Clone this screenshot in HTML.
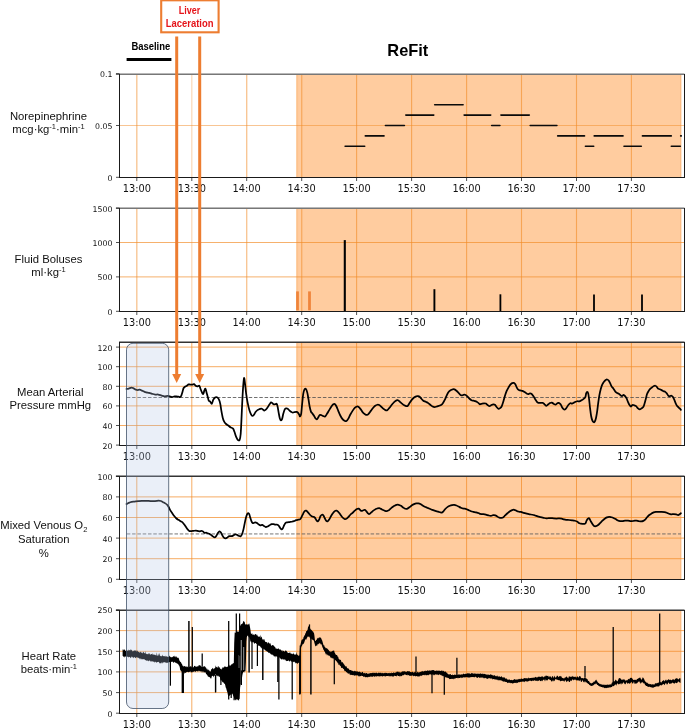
<!DOCTYPE html>
<html lang="en"><head><meta charset="utf-8"><title>ReFit</title>
<style>
html,body{margin:0;padding:0;background:#fff;}
body{width:685px;height:728px;overflow:hidden;}
svg{display:block;}
.tk{font-family:"DejaVu Sans","Liberation Sans",sans-serif;font-size:9.8px;fill:#111;}
.yk{font-family:"DejaVu Sans","Liberation Sans",sans-serif;font-size:7.8px;fill:#111;}
.yl{font-family:"Liberation Sans",Arial,sans-serif;font-size:11.3px;fill:#111;}
.bl{font-family:"Liberation Sans",Arial,sans-serif;font-size:10.1px;font-weight:bold;fill:#000;}
.rf{font-family:"Liberation Sans",Arial,sans-serif;font-size:16.6px;font-weight:bold;fill:#000;}
.ll{font-family:"Liberation Sans",Arial,sans-serif;font-size:10.2px;font-weight:bold;fill:#E5141A;}
</style></head><body>
<svg width="685" height="728" viewBox="0 0 685 728">
<rect width="100%" height="100%" fill="#fff"/>
<g id="panel1">
<rect x="296.2" y="74.5" width="385.1" height="103.0" fill="#FFCC9F"/>
<line x1="297.2" y1="74.5" x2="297.2" y2="177.5" stroke="#F28C28" stroke-opacity="0.13" stroke-width="2"/>
<line x1="680.8" y1="74.5" x2="680.8" y2="177.5" stroke="#F28C28" stroke-opacity="0.3" stroke-width="1"/>
<line x1="136.8" y1="74.5" x2="136.8" y2="177.5" stroke="#F28C28" stroke-opacity="0.5" stroke-width="1.35"/>
<line x1="191.8" y1="74.5" x2="191.8" y2="177.5" stroke="#F28C28" stroke-opacity="0.3" stroke-width="1.35"/>
<line x1="246.7" y1="74.5" x2="246.7" y2="177.5" stroke="#F28C28" stroke-opacity="0.5" stroke-width="1.35"/>
<line x1="301.7" y1="74.5" x2="301.7" y2="177.5" stroke="#F28C28" stroke-opacity="0.5" stroke-width="1.35"/>
<line x1="356.6" y1="74.5" x2="356.6" y2="177.5" stroke="#F28C28" stroke-opacity="0.62" stroke-width="1.1"/>
<line x1="411.6" y1="74.5" x2="411.6" y2="177.5" stroke="#F28C28" stroke-opacity="0.62" stroke-width="1.1"/>
<line x1="466.6" y1="74.5" x2="466.6" y2="177.5" stroke="#F28C28" stroke-opacity="0.62" stroke-width="1.1"/>
<line x1="521.5" y1="74.5" x2="521.5" y2="177.5" stroke="#F28C28" stroke-opacity="0.62" stroke-width="1.1"/>
<line x1="576.5" y1="74.5" x2="576.5" y2="177.5" stroke="#F28C28" stroke-opacity="0.62" stroke-width="1.1"/>
<line x1="631.4" y1="74.5" x2="631.4" y2="177.5" stroke="#F28C28" stroke-opacity="0.62" stroke-width="1.1"/>
<line x1="119.5" y1="125.5" x2="684.5" y2="125.5" stroke="#F28C28" stroke-opacity="0.5" stroke-width="1"/>
</g>
<g id="panel2">
<rect x="296.2" y="208.5" width="385.1" height="103.0" fill="#FFCC9F"/>
<line x1="297.2" y1="208.5" x2="297.2" y2="311.5" stroke="#F28C28" stroke-opacity="0.13" stroke-width="2"/>
<line x1="680.8" y1="208.5" x2="680.8" y2="311.5" stroke="#F28C28" stroke-opacity="0.3" stroke-width="1"/>
<line x1="136.8" y1="208.5" x2="136.8" y2="311.5" stroke="#F28C28" stroke-opacity="0.5" stroke-width="1.35"/>
<line x1="191.8" y1="208.5" x2="191.8" y2="311.5" stroke="#F28C28" stroke-opacity="0.3" stroke-width="1.35"/>
<line x1="246.7" y1="208.5" x2="246.7" y2="311.5" stroke="#F28C28" stroke-opacity="0.5" stroke-width="1.35"/>
<line x1="301.7" y1="208.5" x2="301.7" y2="311.5" stroke="#F28C28" stroke-opacity="0.5" stroke-width="1.35"/>
<line x1="356.6" y1="208.5" x2="356.6" y2="311.5" stroke="#F28C28" stroke-opacity="0.62" stroke-width="1.1"/>
<line x1="411.6" y1="208.5" x2="411.6" y2="311.5" stroke="#F28C28" stroke-opacity="0.62" stroke-width="1.1"/>
<line x1="466.6" y1="208.5" x2="466.6" y2="311.5" stroke="#F28C28" stroke-opacity="0.62" stroke-width="1.1"/>
<line x1="521.5" y1="208.5" x2="521.5" y2="311.5" stroke="#F28C28" stroke-opacity="0.62" stroke-width="1.1"/>
<line x1="576.5" y1="208.5" x2="576.5" y2="311.5" stroke="#F28C28" stroke-opacity="0.62" stroke-width="1.1"/>
<line x1="631.4" y1="208.5" x2="631.4" y2="311.5" stroke="#F28C28" stroke-opacity="0.62" stroke-width="1.1"/>
<line x1="119.5" y1="276.9" x2="684.5" y2="276.9" stroke="#F28C28" stroke-opacity="0.68" stroke-width="1"/>
<line x1="119.5" y1="242.5" x2="684.5" y2="242.5" stroke="#F28C28" stroke-opacity="0.68" stroke-width="1"/>
</g>
<g id="panel3">
<rect x="296.2" y="342.5" width="385.1" height="103.0" fill="#FFCC9F"/>
<line x1="297.2" y1="342.5" x2="297.2" y2="445.5" stroke="#F28C28" stroke-opacity="0.13" stroke-width="2"/>
<line x1="680.8" y1="342.5" x2="680.8" y2="445.5" stroke="#F28C28" stroke-opacity="0.3" stroke-width="1"/>
<line x1="136.8" y1="342.5" x2="136.8" y2="445.5" stroke="#F28C28" stroke-opacity="0.72" stroke-width="1.0"/>
<line x1="191.8" y1="342.5" x2="191.8" y2="445.5" stroke="#F28C28" stroke-opacity="0.72" stroke-width="1.0"/>
<line x1="246.7" y1="342.5" x2="246.7" y2="445.5" stroke="#F28C28" stroke-opacity="0.72" stroke-width="1.0"/>
<line x1="301.7" y1="342.5" x2="301.7" y2="445.5" stroke="#F28C28" stroke-opacity="0.72" stroke-width="1.0"/>
<line x1="356.6" y1="342.5" x2="356.6" y2="445.5" stroke="#F28C28" stroke-opacity="0.72" stroke-width="1.0"/>
<line x1="411.6" y1="342.5" x2="411.6" y2="445.5" stroke="#F28C28" stroke-opacity="0.72" stroke-width="1.0"/>
<line x1="466.6" y1="342.5" x2="466.6" y2="445.5" stroke="#F28C28" stroke-opacity="0.72" stroke-width="1.0"/>
<line x1="521.5" y1="342.5" x2="521.5" y2="445.5" stroke="#F28C28" stroke-opacity="0.72" stroke-width="1.0"/>
<line x1="576.5" y1="342.5" x2="576.5" y2="445.5" stroke="#F28C28" stroke-opacity="0.72" stroke-width="1.0"/>
<line x1="631.4" y1="342.5" x2="631.4" y2="445.5" stroke="#F28C28" stroke-opacity="0.72" stroke-width="1.0"/>
<line x1="119.5" y1="425.5" x2="684.5" y2="425.5" stroke="#F28C28" stroke-opacity="0.72" stroke-width="1"/>
<line x1="119.5" y1="405.9" x2="684.5" y2="405.9" stroke="#F28C28" stroke-opacity="0.72" stroke-width="1"/>
<line x1="119.5" y1="386.3" x2="684.5" y2="386.3" stroke="#F28C28" stroke-opacity="0.72" stroke-width="1"/>
<line x1="119.5" y1="366.7" x2="684.5" y2="366.7" stroke="#F28C28" stroke-opacity="0.72" stroke-width="1"/>
<line x1="119.5" y1="347.1" x2="684.5" y2="347.1" stroke="#F28C28" stroke-opacity="0.72" stroke-width="1"/>
</g>
<g id="panel4">
<rect x="296.2" y="476.5" width="385.1" height="103.0" fill="#FFCC9F"/>
<line x1="297.2" y1="476.5" x2="297.2" y2="579.5" stroke="#F28C28" stroke-opacity="0.13" stroke-width="2"/>
<line x1="680.8" y1="476.5" x2="680.8" y2="579.5" stroke="#F28C28" stroke-opacity="0.3" stroke-width="1"/>
<line x1="136.8" y1="476.5" x2="136.8" y2="579.5" stroke="#F28C28" stroke-opacity="0.72" stroke-width="1.0"/>
<line x1="191.8" y1="476.5" x2="191.8" y2="579.5" stroke="#F28C28" stroke-opacity="0.72" stroke-width="1.0"/>
<line x1="246.7" y1="476.5" x2="246.7" y2="579.5" stroke="#F28C28" stroke-opacity="0.72" stroke-width="1.0"/>
<line x1="301.7" y1="476.5" x2="301.7" y2="579.5" stroke="#F28C28" stroke-opacity="0.72" stroke-width="1.0"/>
<line x1="356.6" y1="476.5" x2="356.6" y2="579.5" stroke="#F28C28" stroke-opacity="0.72" stroke-width="1.0"/>
<line x1="411.6" y1="476.5" x2="411.6" y2="579.5" stroke="#F28C28" stroke-opacity="0.72" stroke-width="1.0"/>
<line x1="466.6" y1="476.5" x2="466.6" y2="579.5" stroke="#F28C28" stroke-opacity="0.72" stroke-width="1.0"/>
<line x1="521.5" y1="476.5" x2="521.5" y2="579.5" stroke="#F28C28" stroke-opacity="0.72" stroke-width="1.0"/>
<line x1="576.5" y1="476.5" x2="576.5" y2="579.5" stroke="#F28C28" stroke-opacity="0.72" stroke-width="1.0"/>
<line x1="631.4" y1="476.5" x2="631.4" y2="579.5" stroke="#F28C28" stroke-opacity="0.72" stroke-width="1.0"/>
<line x1="119.5" y1="558.7" x2="684.5" y2="558.7" stroke="#F28C28" stroke-opacity="0.72" stroke-width="1"/>
<line x1="119.5" y1="538.1" x2="684.5" y2="538.1" stroke="#F28C28" stroke-opacity="0.72" stroke-width="1"/>
<line x1="119.5" y1="517.5" x2="684.5" y2="517.5" stroke="#F28C28" stroke-opacity="0.72" stroke-width="1"/>
<line x1="119.5" y1="496.9" x2="684.5" y2="496.9" stroke="#F28C28" stroke-opacity="0.72" stroke-width="1"/>
</g>
<g id="panel5">
<rect x="296.2" y="610.5" width="385.1" height="103.0" fill="#FFCC9F"/>
<line x1="297.2" y1="610.5" x2="297.2" y2="713.5" stroke="#F28C28" stroke-opacity="0.13" stroke-width="2"/>
<line x1="680.8" y1="610.5" x2="680.8" y2="713.5" stroke="#F28C28" stroke-opacity="0.3" stroke-width="1"/>
<line x1="136.8" y1="610.5" x2="136.8" y2="713.5" stroke="#F28C28" stroke-opacity="0.72" stroke-width="1.0"/>
<line x1="191.8" y1="610.5" x2="191.8" y2="713.5" stroke="#F28C28" stroke-opacity="0.72" stroke-width="1.0"/>
<line x1="246.7" y1="610.5" x2="246.7" y2="713.5" stroke="#F28C28" stroke-opacity="0.72" stroke-width="1.0"/>
<line x1="301.7" y1="610.5" x2="301.7" y2="713.5" stroke="#F28C28" stroke-opacity="0.72" stroke-width="1.0"/>
<line x1="356.6" y1="610.5" x2="356.6" y2="713.5" stroke="#F28C28" stroke-opacity="0.72" stroke-width="1.0"/>
<line x1="411.6" y1="610.5" x2="411.6" y2="713.5" stroke="#F28C28" stroke-opacity="0.72" stroke-width="1.0"/>
<line x1="466.6" y1="610.5" x2="466.6" y2="713.5" stroke="#F28C28" stroke-opacity="0.72" stroke-width="1.0"/>
<line x1="521.5" y1="610.5" x2="521.5" y2="713.5" stroke="#F28C28" stroke-opacity="0.72" stroke-width="1.0"/>
<line x1="576.5" y1="610.5" x2="576.5" y2="713.5" stroke="#F28C28" stroke-opacity="0.72" stroke-width="1.0"/>
<line x1="631.4" y1="610.5" x2="631.4" y2="713.5" stroke="#F28C28" stroke-opacity="0.72" stroke-width="1.0"/>
<line x1="119.5" y1="692.6" x2="684.5" y2="692.6" stroke="#F28C28" stroke-opacity="0.72" stroke-width="1"/>
<line x1="119.5" y1="671.9" x2="684.5" y2="671.9" stroke="#F28C28" stroke-opacity="0.72" stroke-width="1"/>
<line x1="119.5" y1="651.3" x2="684.5" y2="651.3" stroke="#F28C28" stroke-opacity="0.72" stroke-width="1"/>
<line x1="119.5" y1="630.6" x2="684.5" y2="630.6" stroke="#F28C28" stroke-opacity="0.72" stroke-width="1"/>
</g>
<line x1="345.1" y1="146.2" x2="364.7" y2="146.2" stroke="#0a0a0a" stroke-width="1.6" stroke-linecap="round"/>
<line x1="365.3" y1="135.9" x2="384.0" y2="135.9" stroke="#0a0a0a" stroke-width="1.6" stroke-linecap="round"/>
<line x1="385.4" y1="125.5" x2="404.4" y2="125.5" stroke="#0a0a0a" stroke-width="1.6" stroke-linecap="round"/>
<line x1="405.8" y1="115.1" x2="433.8" y2="115.1" stroke="#0a0a0a" stroke-width="1.6" stroke-linecap="round"/>
<line x1="434.7" y1="104.8" x2="463.1" y2="104.8" stroke="#0a0a0a" stroke-width="1.6" stroke-linecap="round"/>
<line x1="464.1" y1="115.1" x2="490.7" y2="115.1" stroke="#0a0a0a" stroke-width="1.6" stroke-linecap="round"/>
<line x1="491.7" y1="125.5" x2="499.9" y2="125.5" stroke="#0a0a0a" stroke-width="1.6" stroke-linecap="round"/>
<line x1="500.9" y1="115.1" x2="529.3" y2="115.1" stroke="#0a0a0a" stroke-width="1.6" stroke-linecap="round"/>
<line x1="530.2" y1="125.5" x2="556.9" y2="125.5" stroke="#0a0a0a" stroke-width="1.6" stroke-linecap="round"/>
<line x1="557.7" y1="135.9" x2="584.5" y2="135.9" stroke="#0a0a0a" stroke-width="1.6" stroke-linecap="round"/>
<line x1="585.4" y1="146.2" x2="593.7" y2="146.2" stroke="#0a0a0a" stroke-width="1.6" stroke-linecap="round"/>
<line x1="594.2" y1="135.9" x2="623.0" y2="135.9" stroke="#0a0a0a" stroke-width="1.6" stroke-linecap="round"/>
<line x1="624.0" y1="146.2" x2="641.3" y2="146.2" stroke="#0a0a0a" stroke-width="1.6" stroke-linecap="round"/>
<line x1="642.4" y1="135.9" x2="671.3" y2="135.9" stroke="#0a0a0a" stroke-width="1.6" stroke-linecap="round"/>
<line x1="671.3" y1="146.2" x2="680.3" y2="146.2" stroke="#0a0a0a" stroke-width="1.6" stroke-linecap="round"/>
<line x1="680.7" y1="135.9" x2="681.3" y2="135.9" stroke="#0a0a0a" stroke-width="1.6" stroke-linecap="round"/>
<line x1="115.9" y1="73.5" x2="684.5" y2="73.5" stroke="#b8b8b8" stroke-width="1"/>
<line x1="115.9" y1="74.5" x2="684.5" y2="74.5" stroke="#777" stroke-width="1"/>
<line x1="119.5" y1="74.0" x2="119.5" y2="178.0" stroke="#1a1a1a" stroke-width="1"/>
<line x1="119.0" y1="177.5" x2="685.0" y2="177.5" stroke="#1a1a1a" stroke-width="1"/>
<line x1="684.5" y1="74.0" x2="684.5" y2="178.0" stroke="#1a1a1a" stroke-width="1"/>
<line x1="136.8" y1="177.5" x2="136.8" y2="181.0" stroke="#222" stroke-width="0.8"/>
<text x="136.8" y="191.9" text-anchor="middle" class="tk">13:00</text>
<line x1="191.8" y1="177.5" x2="191.8" y2="181.0" stroke="#222" stroke-width="0.8"/>
<text x="191.8" y="191.9" text-anchor="middle" class="tk">13:30</text>
<line x1="246.7" y1="177.5" x2="246.7" y2="181.0" stroke="#222" stroke-width="0.8"/>
<text x="246.7" y="191.9" text-anchor="middle" class="tk">14:00</text>
<line x1="301.7" y1="177.5" x2="301.7" y2="181.0" stroke="#222" stroke-width="0.8"/>
<text x="301.7" y="191.9" text-anchor="middle" class="tk">14:30</text>
<line x1="356.6" y1="177.5" x2="356.6" y2="181.0" stroke="#222" stroke-width="0.8"/>
<text x="356.6" y="191.9" text-anchor="middle" class="tk">15:00</text>
<line x1="411.6" y1="177.5" x2="411.6" y2="181.0" stroke="#222" stroke-width="0.8"/>
<text x="411.6" y="191.9" text-anchor="middle" class="tk">15:30</text>
<line x1="466.6" y1="177.5" x2="466.6" y2="181.0" stroke="#222" stroke-width="0.8"/>
<text x="466.6" y="191.9" text-anchor="middle" class="tk">16:00</text>
<line x1="521.5" y1="177.5" x2="521.5" y2="181.0" stroke="#222" stroke-width="0.8"/>
<text x="521.5" y="191.9" text-anchor="middle" class="tk">16:30</text>
<line x1="576.5" y1="177.5" x2="576.5" y2="181.0" stroke="#222" stroke-width="0.8"/>
<text x="576.5" y="191.9" text-anchor="middle" class="tk">17:00</text>
<line x1="631.4" y1="177.5" x2="631.4" y2="181.0" stroke="#222" stroke-width="0.8"/>
<text x="631.4" y="191.9" text-anchor="middle" class="tk">17:30</text>
<line x1="116.0" y1="177.3" x2="119.5" y2="177.3" stroke="#222" stroke-width="0.8"/>
<text x="112.4" y="180.7" text-anchor="end" class="yk">0</text>
<line x1="116.0" y1="125.5" x2="119.5" y2="125.5" stroke="#222" stroke-width="0.8"/>
<text x="112.4" y="128.9" text-anchor="end" class="yk">0.05</text>
<line x1="116.0" y1="73.7" x2="119.5" y2="73.7" stroke="#222" stroke-width="0.8"/>
<text x="112.4" y="77.1" text-anchor="end" class="yk">0.1</text>
<line x1="297.5" y1="291.4" x2="297.5" y2="310.3" stroke="#ED7D31" stroke-opacity="0.9" stroke-width="2.8"/>
<line x1="309.5" y1="291.4" x2="309.5" y2="310.3" stroke="#ED7D31" stroke-opacity="0.9" stroke-width="2.8"/>
<line x1="344.8" y1="240.1" x2="344.8" y2="311.5" stroke="#000" stroke-width="2.1"/>
<line x1="434.4" y1="289.2" x2="434.4" y2="311.5" stroke="#000" stroke-width="1.9"/>
<line x1="500.4" y1="294.3" x2="500.4" y2="311.5" stroke="#000" stroke-width="1.8"/>
<line x1="594" y1="294.4" x2="594" y2="311.5" stroke="#000" stroke-width="1.8"/>
<line x1="642" y1="294.4" x2="642" y2="311.5" stroke="#000" stroke-width="1.8"/>
<line x1="115.9" y1="207.5" x2="684.5" y2="207.5" stroke="#b8b8b8" stroke-width="1"/>
<line x1="115.9" y1="208.5" x2="684.5" y2="208.5" stroke="#777" stroke-width="1"/>
<line x1="119.5" y1="208.0" x2="119.5" y2="312.0" stroke="#1a1a1a" stroke-width="1"/>
<line x1="119.0" y1="311.5" x2="685.0" y2="311.5" stroke="#1a1a1a" stroke-width="1"/>
<line x1="684.5" y1="208.0" x2="684.5" y2="312.0" stroke="#1a1a1a" stroke-width="1"/>
<line x1="136.8" y1="311.5" x2="136.8" y2="315.0" stroke="#222" stroke-width="0.8"/>
<text x="136.8" y="325.9" text-anchor="middle" class="tk">13:00</text>
<line x1="191.8" y1="311.5" x2="191.8" y2="315.0" stroke="#222" stroke-width="0.8"/>
<text x="191.8" y="325.9" text-anchor="middle" class="tk">13:30</text>
<line x1="246.7" y1="311.5" x2="246.7" y2="315.0" stroke="#222" stroke-width="0.8"/>
<text x="246.7" y="325.9" text-anchor="middle" class="tk">14:00</text>
<line x1="301.7" y1="311.5" x2="301.7" y2="315.0" stroke="#222" stroke-width="0.8"/>
<text x="301.7" y="325.9" text-anchor="middle" class="tk">14:30</text>
<line x1="356.6" y1="311.5" x2="356.6" y2="315.0" stroke="#222" stroke-width="0.8"/>
<text x="356.6" y="325.9" text-anchor="middle" class="tk">15:00</text>
<line x1="411.6" y1="311.5" x2="411.6" y2="315.0" stroke="#222" stroke-width="0.8"/>
<text x="411.6" y="325.9" text-anchor="middle" class="tk">15:30</text>
<line x1="466.6" y1="311.5" x2="466.6" y2="315.0" stroke="#222" stroke-width="0.8"/>
<text x="466.6" y="325.9" text-anchor="middle" class="tk">16:00</text>
<line x1="521.5" y1="311.5" x2="521.5" y2="315.0" stroke="#222" stroke-width="0.8"/>
<text x="521.5" y="325.9" text-anchor="middle" class="tk">16:30</text>
<line x1="576.5" y1="311.5" x2="576.5" y2="315.0" stroke="#222" stroke-width="0.8"/>
<text x="576.5" y="325.9" text-anchor="middle" class="tk">17:00</text>
<line x1="631.4" y1="311.5" x2="631.4" y2="315.0" stroke="#222" stroke-width="0.8"/>
<text x="631.4" y="325.9" text-anchor="middle" class="tk">17:30</text>
<line x1="116.0" y1="311.3" x2="119.5" y2="311.3" stroke="#222" stroke-width="0.8"/>
<text x="112.4" y="314.7" text-anchor="end" class="yk">0</text>
<line x1="116.0" y1="276.9" x2="119.5" y2="276.9" stroke="#222" stroke-width="0.8"/>
<text x="112.4" y="280.3" text-anchor="end" class="yk">500</text>
<line x1="116.0" y1="242.5" x2="119.5" y2="242.5" stroke="#222" stroke-width="0.8"/>
<text x="112.4" y="245.9" text-anchor="end" class="yk">1000</text>
<line x1="116.0" y1="208.1" x2="119.5" y2="208.1" stroke="#222" stroke-width="0.8"/>
<text x="112.4" y="211.5" text-anchor="end" class="yk">1500</text>
<line x1="126.8" y1="397.5" x2="681" y2="397.5" stroke="#4d4d4d" stroke-opacity="0.8" stroke-width="1.0" stroke-dasharray="3.5 1.8"/><path d="M126.57 388.98 C126.93 388.91 127.96 388.76 128.76 388.54 C129.56 388.32 130.66 387.74 131.39 387.66 C132.12 387.59 132.48 387.81 133.14 388.10 C133.80 388.39 134.65 389.10 135.33 389.42 C136.01 389.73 136.50 389.95 137.23 390.00 C137.96 390.05 138.93 389.61 139.71 389.71 C140.49 389.81 141.17 390.27 141.90 390.58 C142.63 390.90 143.36 391.31 144.09 391.61 C144.82 391.90 145.43 392.12 146.28 392.34 C147.13 392.55 148.22 392.68 149.20 392.92 C150.17 393.16 151.14 393.53 152.12 393.80 C153.09 394.06 154.01 394.40 155.04 394.53 C156.06 394.65 157.15 394.36 158.25 394.53 C159.34 394.70 160.56 395.26 161.61 395.55 C162.65 395.84 163.55 396.20 164.53 396.28 C165.50 396.35 166.59 395.99 167.45 395.99 C168.30 395.99 168.91 396.11 169.64 396.28 C170.36 396.45 171.09 396.96 171.82 397.01 C172.55 397.06 173.28 396.69 174.01 396.57 C174.74 396.45 175.47 396.25 176.20 396.28 C176.93 396.30 177.74 396.59 178.39 396.72 C179.05 396.84 179.66 397.20 180.15 397.01 C180.63 396.81 180.92 396.40 181.31 395.55 C181.70 394.70 182.12 393.11 182.48 391.90 C182.85 390.68 183.09 389.10 183.50 388.25 C183.92 387.40 184.40 387.20 184.96 386.79 C185.52 386.37 186.25 386.18 186.86 385.77 C187.47 385.35 188.08 384.50 188.61 384.31 C189.15 384.11 189.46 384.55 190.07 384.60 C190.68 384.65 191.58 384.67 192.26 384.60 C192.94 384.53 193.60 383.97 194.16 384.16 C194.72 384.36 195.09 385.40 195.62 385.77 C196.16 386.13 196.76 386.37 197.37 386.35 C197.98 386.33 198.78 385.30 199.27 385.62 C199.76 385.94 199.88 387.20 200.29 388.25 C200.71 389.29 201.27 390.92 201.75 391.90 C202.24 392.87 202.77 394.33 203.21 394.09 C203.65 393.84 204.01 391.34 204.38 390.44 C204.74 389.54 205.06 388.44 205.40 388.69 C205.74 388.93 206.06 390.63 206.42 391.90 C206.79 393.16 207.20 394.82 207.59 396.28 C207.98 397.74 208.36 399.81 208.76 400.66 C209.16 401.51 209.50 400.85 210.00 401.39 C210.50 401.92 211.22 404.11 211.75 403.87 C212.29 403.63 212.65 401.00 213.21 399.93 C213.77 398.86 214.48 397.88 215.11 397.45 C215.74 397.01 216.40 397.01 217.01 397.30 C217.62 397.59 218.22 398.15 218.76 399.20 C219.29 400.24 219.78 401.63 220.22 403.58 C220.66 405.52 220.95 408.44 221.39 410.88 C221.82 413.31 222.36 416.35 222.85 418.18 C223.33 420.00 223.77 420.85 224.31 421.82 C224.84 422.80 225.40 423.41 226.06 424.01 C226.72 424.62 227.52 424.94 228.25 425.47 C228.98 426.01 229.64 426.69 230.44 427.23 C231.24 427.76 232.38 427.88 233.07 428.69 C233.75 429.49 233.99 430.63 234.53 432.04 C235.06 433.45 235.69 435.82 236.28 437.15 C236.86 438.49 237.47 439.64 238.03 440.07 C238.59 440.51 239.20 440.75 239.64 439.78 C240.07 438.81 240.36 437.35 240.66 434.23 C240.95 431.12 241.14 425.96 241.39 421.09 C241.63 416.23 241.85 410.39 242.12 405.04 C242.38 399.68 242.68 393.48 242.99 388.98 C243.31 384.48 243.67 378.88 244.01 378.03 C244.36 377.18 244.67 381.19 245.04 383.87 C245.40 386.55 245.77 390.92 246.20 394.09 C246.64 397.25 247.13 400.17 247.66 402.85 C248.20 405.52 248.83 408.20 249.42 410.15 C250.00 412.09 250.68 413.55 251.17 414.53 C251.65 415.50 251.90 415.91 252.34 415.99 C252.77 416.06 253.26 415.62 253.80 414.96 C254.33 414.31 254.94 412.85 255.55 412.04 C256.16 411.24 256.76 410.63 257.45 410.15 C258.13 409.66 258.98 409.39 259.64 409.12 C260.29 408.86 260.85 408.49 261.39 408.54 C261.92 408.59 262.36 409.08 262.85 409.42 C263.33 409.76 263.82 410.54 264.31 410.58 C264.79 410.63 265.21 410.27 265.77 409.71 C266.33 409.15 267.03 408.13 267.66 407.23 C268.30 406.33 269.00 405.11 269.56 404.31 C270.12 403.50 270.54 402.58 271.02 402.41 C271.51 402.24 272.00 402.94 272.48 403.28 C272.97 403.63 273.45 404.31 273.94 404.45 C274.43 404.60 274.94 404.26 275.40 404.16 C275.86 404.06 276.35 403.48 276.72 403.87 C277.08 404.26 277.27 405.09 277.59 406.50 C277.91 407.91 278.25 410.39 278.61 412.34 C278.98 414.28 279.39 416.84 279.78 418.18 C280.17 419.51 280.56 420.24 280.95 420.36 C281.34 420.49 281.73 420.00 282.12 418.91 C282.51 417.81 282.85 415.38 283.28 413.80 C283.72 412.21 284.26 410.32 284.74 409.42 C285.23 408.52 285.72 408.52 286.20 408.39 C286.69 408.27 287.10 408.32 287.66 408.69 C288.22 409.05 288.93 410.02 289.56 410.58 C290.19 411.14 290.90 411.70 291.46 412.04 C292.02 412.38 292.38 412.63 292.92 412.63 C293.45 412.63 294.09 412.17 294.67 412.04 C295.26 411.92 295.89 411.80 296.42 411.90 C296.96 412.00 297.40 412.12 297.88 412.63 C298.37 413.14 298.99 414.33 299.34 414.96 C299.70 415.60 299.70 416.62 300.00 416.42 C300.30 416.23 300.83 415.69 301.17 413.80 C301.51 411.90 301.70 408.32 302.04 405.04 C302.38 401.75 302.82 396.64 303.21 394.09 C303.60 391.53 303.94 390.56 304.38 389.71 C304.82 388.86 305.35 388.49 305.84 388.98 C306.33 389.46 306.86 390.92 307.30 392.63 C307.74 394.33 308.08 396.89 308.47 399.20 C308.86 401.51 309.22 404.43 309.64 406.50 C310.05 408.56 310.49 410.44 310.95 411.61 C311.41 412.77 311.92 412.85 312.41 413.50 C312.90 414.16 313.38 414.77 313.87 415.55 C314.36 416.33 314.84 417.54 315.33 418.18 C315.82 418.81 316.30 419.46 316.79 419.34 C317.27 419.22 317.76 418.18 318.25 417.45 C318.73 416.72 319.15 415.33 319.71 414.96 C320.27 414.60 321.00 415.06 321.61 415.26 C322.21 415.45 322.77 415.94 323.36 416.13 C323.94 416.33 324.50 416.81 325.11 416.42 C325.72 416.03 326.33 414.84 327.01 413.80 C327.69 412.75 328.47 411.36 329.20 410.15 C329.93 408.93 330.71 407.47 331.39 406.50 C332.07 405.52 332.73 404.72 333.28 404.31 C333.84 403.89 334.21 403.65 334.74 404.01 C335.28 404.38 335.91 405.35 336.50 406.50 C337.08 407.64 337.64 409.42 338.25 410.88 C338.86 412.34 339.46 413.92 340.15 415.26 C340.83 416.59 341.61 417.98 342.34 418.91 C343.07 419.83 343.84 420.44 344.53 420.80 C345.21 421.17 345.82 421.41 346.42 421.09 C347.03 420.78 347.52 420.00 348.18 418.91 C348.83 417.81 349.64 415.86 350.36 414.53 C351.09 413.19 351.82 411.97 352.55 410.88 C353.28 409.78 354.01 408.69 354.74 407.96 C355.47 407.23 356.28 406.67 356.93 406.50 C357.59 406.33 358.08 406.50 358.69 406.93 C359.29 407.37 359.90 408.22 360.58 409.12 C361.27 410.02 362.04 411.48 362.77 412.34 C363.50 413.19 364.28 413.80 364.96 414.23 C365.64 414.67 366.25 415.04 366.86 414.96 C367.47 414.89 367.96 414.48 368.61 413.80 C369.27 413.11 370.07 411.85 370.80 410.88 C371.53 409.90 372.26 408.81 372.99 407.96 C373.72 407.10 374.45 406.30 375.18 405.77 C375.91 405.23 376.69 404.87 377.37 404.74 C378.05 404.62 378.66 404.74 379.27 405.04 C379.88 405.33 380.36 405.89 381.02 406.50 C381.68 407.10 382.48 408.08 383.21 408.69 C383.94 409.29 384.72 409.90 385.40 410.15 C386.08 410.39 386.64 410.51 387.30 410.15 C387.96 409.78 388.89 408.44 389.34 407.96 C389.79 407.47 389.53 407.83 390.00 407.23 C390.47 406.62 391.46 405.21 392.19 404.31 C392.92 403.41 393.65 402.48 394.38 401.82 C395.11 401.17 395.96 400.63 396.57 400.36 C397.18 400.10 397.47 399.98 398.03 400.22 C398.59 400.46 399.27 401.27 399.93 401.82 C400.58 402.38 401.24 402.99 401.97 403.58 C402.70 404.16 403.58 404.89 404.31 405.33 C405.04 405.77 405.77 406.13 406.35 406.20 C406.93 406.28 407.25 406.33 407.81 405.77 C408.37 405.21 409.03 403.87 409.71 402.85 C410.39 401.82 411.17 400.54 411.90 399.64 C412.63 398.73 413.36 398.00 414.09 397.45 C414.82 396.89 415.62 396.50 416.28 396.28 C416.93 396.06 417.47 396.06 418.03 396.13 C418.59 396.20 419.08 396.28 419.64 396.72 C420.19 397.15 420.78 398.10 421.39 398.76 C422.00 399.42 422.55 400.15 423.28 400.66 C424.01 401.17 424.94 401.41 425.77 401.82 C426.59 402.24 427.45 402.60 428.25 403.14 C429.05 403.67 429.85 404.48 430.58 405.04 C431.31 405.60 431.97 406.16 432.63 406.50 C433.28 406.84 433.84 407.08 434.53 407.08 C435.21 407.08 435.99 406.72 436.72 406.50 C437.45 406.28 438.18 406.01 438.91 405.77 C439.64 405.52 440.44 405.45 441.09 405.04 C441.75 404.62 442.24 404.14 442.85 403.28 C443.45 402.43 444.11 401.22 444.74 399.93 C445.38 398.64 446.03 396.84 446.64 395.55 C447.25 394.26 447.74 393.09 448.39 392.19 C449.05 391.29 449.85 390.63 450.58 390.15 C451.31 389.66 452.12 389.39 452.77 389.27 C453.43 389.15 453.92 389.17 454.53 389.42 C455.13 389.66 455.79 390.19 456.42 390.73 C457.06 391.27 457.71 392.00 458.32 392.63 C458.93 393.26 459.54 394.06 460.07 394.53 C460.61 394.99 461.05 395.30 461.53 395.40 C462.02 395.50 462.51 395.26 462.99 395.11 C463.48 394.96 463.97 394.53 464.45 394.53 C464.94 394.53 465.38 394.74 465.91 395.11 C466.45 395.47 467.06 396.11 467.66 396.72 C468.27 397.32 468.93 398.18 469.56 398.76 C470.19 399.34 470.80 399.90 471.46 400.22 C472.12 400.54 472.85 400.51 473.50 400.66 C474.16 400.80 474.77 400.85 475.40 401.09 C476.03 401.34 476.69 401.70 477.30 402.12 C477.91 402.53 478.60 403.21 479.05 403.58 C479.50 403.94 479.48 404.31 480.00 404.31 C480.52 404.31 481.51 403.75 482.19 403.58 C482.87 403.41 483.48 403.28 484.09 403.28 C484.70 403.28 485.26 403.28 485.84 403.58 C486.42 403.87 486.98 404.60 487.59 405.04 C488.20 405.47 488.86 406.20 489.49 406.20 C490.12 406.20 490.73 405.35 491.39 405.04 C492.04 404.72 492.85 404.36 493.43 404.31 C494.01 404.26 494.33 404.26 494.89 404.74 C495.45 405.23 496.16 406.55 496.79 407.23 C497.42 407.91 498.08 408.71 498.69 408.83 C499.29 408.95 499.90 408.47 500.44 407.96 C500.97 407.45 501.41 406.86 501.90 405.77 C502.38 404.67 502.87 402.97 503.36 401.39 C503.84 399.81 504.28 397.98 504.82 396.28 C505.35 394.57 505.96 392.63 506.57 391.17 C507.18 389.71 507.83 388.61 508.47 387.52 C509.10 386.42 509.76 385.33 510.36 384.60 C510.97 383.87 511.53 383.43 512.12 383.14 C512.70 382.85 513.33 382.65 513.87 382.85 C514.40 383.04 514.84 383.53 515.33 384.31 C515.82 385.09 516.30 386.62 516.79 387.52 C517.27 388.42 517.69 389.22 518.25 389.71 C518.81 390.19 519.46 390.24 520.15 390.44 C520.83 390.63 521.61 390.63 522.34 390.88 C523.07 391.12 523.84 391.48 524.53 391.90 C525.21 392.31 525.82 392.99 526.42 393.36 C527.03 393.72 527.59 394.09 528.18 394.09 C528.76 394.09 529.39 393.41 529.93 393.36 C530.46 393.31 530.83 393.36 531.39 393.80 C531.95 394.23 532.65 395.09 533.28 395.99 C533.92 396.89 534.57 398.22 535.18 399.20 C535.79 400.17 536.40 401.22 536.93 401.82 C537.47 402.43 537.79 402.68 538.39 402.85 C539.00 403.02 539.85 402.85 540.58 402.85 C541.31 402.85 542.12 402.60 542.77 402.85 C543.43 403.09 543.92 403.82 544.53 404.31 C545.13 404.79 545.79 405.77 546.42 405.77 C547.06 405.77 547.71 404.77 548.32 404.31 C548.93 403.84 549.49 403.28 550.07 402.99 C550.66 402.70 551.22 402.41 551.82 402.55 C552.43 402.70 553.11 403.53 553.72 403.87 C554.33 404.21 554.87 404.70 555.47 404.60 C556.08 404.50 556.81 403.58 557.37 403.28 C557.93 402.99 558.30 402.68 558.83 402.85 C559.37 403.02 560.05 403.58 560.58 404.31 C561.12 405.04 561.56 406.42 562.04 407.23 C562.53 408.03 563.02 408.76 563.50 409.12 C563.99 409.49 564.48 409.61 564.96 409.42 C565.45 409.22 565.86 408.69 566.42 407.96 C566.98 407.23 567.69 405.82 568.32 405.04 C568.95 404.26 569.61 403.53 570.22 403.28 C570.83 403.04 571.39 403.65 571.97 403.58 C572.55 403.50 573.11 403.16 573.72 402.85 C574.33 402.53 574.99 401.95 575.62 401.68 C576.25 401.41 576.79 401.34 577.52 401.24 C578.25 401.14 578.75 401.68 580.00 401.09 C581.25 400.51 583.97 399.03 585.00 397.74 C586.03 396.45 585.80 394.33 586.17 393.36 C586.53 392.38 586.85 391.90 587.19 391.90 C587.53 391.90 587.90 392.14 588.21 393.36 C588.53 394.57 588.77 396.64 589.09 399.20 C589.40 401.75 589.77 405.89 590.11 408.69 C590.45 411.48 590.77 414.04 591.13 415.99 C591.50 417.93 591.91 419.34 592.30 420.36 C592.69 421.39 593.08 421.87 593.47 422.12 C593.86 422.36 594.22 422.48 594.64 421.82 C595.05 421.17 595.54 419.88 595.95 418.18 C596.36 416.47 596.75 414.04 597.12 411.61 C597.48 409.17 597.77 406.25 598.14 403.58 C598.50 400.90 598.87 397.98 599.31 395.55 C599.74 393.11 600.28 390.80 600.77 388.98 C601.25 387.15 601.69 385.82 602.23 384.60 C602.76 383.38 603.39 382.46 603.98 381.68 C604.56 380.90 605.19 380.29 605.73 379.93 C606.27 379.56 606.70 379.39 607.19 379.49 C607.68 379.59 608.16 379.90 608.65 380.51 C609.14 381.12 609.62 382.17 610.11 383.14 C610.60 384.11 611.01 385.43 611.57 386.35 C612.13 387.27 612.83 387.81 613.47 388.69 C614.10 389.56 614.76 390.88 615.36 391.61 C615.97 392.34 616.53 392.70 617.12 393.07 C617.70 393.43 618.26 393.38 618.87 393.80 C619.48 394.21 620.21 395.18 620.77 395.55 C621.33 395.91 621.74 396.11 622.23 395.99 C622.71 395.86 623.20 394.77 623.69 394.82 C624.17 394.87 624.66 395.67 625.15 396.28 C625.63 396.89 626.12 397.49 626.61 398.47 C627.09 399.44 627.58 401.02 628.07 402.12 C628.55 403.21 629.04 404.31 629.53 405.04 C630.01 405.77 630.50 406.50 630.99 406.50 C631.47 406.50 631.89 405.23 632.45 405.04 C633.00 404.84 633.73 405.13 634.34 405.33 C634.95 405.52 635.51 405.72 636.09 406.20 C636.68 406.69 637.24 407.71 637.85 408.25 C638.45 408.78 639.11 409.42 639.74 409.42 C640.38 409.42 641.03 408.69 641.64 408.25 C642.25 407.81 642.91 407.57 643.39 406.79 C643.88 406.01 644.17 404.84 644.56 403.58 C644.95 402.31 645.32 400.78 645.73 399.20 C646.14 397.62 646.58 395.43 647.04 394.09 C647.51 392.75 647.94 392.07 648.50 391.17 C649.06 390.27 649.79 389.34 650.40 388.69 C651.01 388.03 651.57 387.66 652.15 387.23 C652.74 386.79 653.37 386.30 653.91 386.06 C654.44 385.82 654.88 385.64 655.36 385.77 C655.85 385.89 656.39 386.33 656.82 386.79 C657.26 387.25 657.51 388.13 657.99 388.54 C658.48 388.95 659.14 389.00 659.74 389.27 C660.35 389.54 661.01 389.83 661.64 390.15 C662.27 390.46 662.93 390.88 663.54 391.17 C664.15 391.46 664.76 391.53 665.29 391.90 C665.83 392.26 666.27 392.75 666.75 393.36 C667.24 393.97 667.73 395.06 668.21 395.55 C668.70 396.03 669.18 396.28 669.67 396.28 C670.16 396.28 670.64 395.50 671.13 395.55 C671.62 395.60 672.10 395.96 672.59 396.57 C673.08 397.18 673.56 398.15 674.05 399.20 C674.54 400.24 675.02 401.75 675.51 402.85 C676.00 403.94 676.44 404.99 676.97 405.77 C677.51 406.55 678.24 407.03 678.72 407.52 C679.21 408.00 679.53 408.30 679.89 408.69 C680.26 409.08 680.74 409.66 680.91 409.85" fill="none" stroke="#000" stroke-width="1.75" stroke-linejoin="round" stroke-linecap="round"/>
<line x1="119.0" y1="341.5" x2="684.5" y2="341.5" stroke="#999" stroke-width="1"/>
<line x1="119.0" y1="342.5" x2="684.5" y2="342.5" stroke="#333" stroke-width="1"/>
<line x1="119.5" y1="342.0" x2="119.5" y2="446.0" stroke="#1a1a1a" stroke-width="1"/>
<line x1="119.0" y1="445.5" x2="685.0" y2="445.5" stroke="#1a1a1a" stroke-width="1"/>
<line x1="684.5" y1="342.0" x2="684.5" y2="446.0" stroke="#1a1a1a" stroke-width="1"/>
<line x1="136.8" y1="445.5" x2="136.8" y2="449.0" stroke="#222" stroke-width="0.8"/>
<text x="136.8" y="459.9" text-anchor="middle" class="tk">13:00</text>
<line x1="191.8" y1="445.5" x2="191.8" y2="449.0" stroke="#222" stroke-width="0.8"/>
<text x="191.8" y="459.9" text-anchor="middle" class="tk">13:30</text>
<line x1="246.7" y1="445.5" x2="246.7" y2="449.0" stroke="#222" stroke-width="0.8"/>
<text x="246.7" y="459.9" text-anchor="middle" class="tk">14:00</text>
<line x1="301.7" y1="445.5" x2="301.7" y2="449.0" stroke="#222" stroke-width="0.8"/>
<text x="301.7" y="459.9" text-anchor="middle" class="tk">14:30</text>
<line x1="356.6" y1="445.5" x2="356.6" y2="449.0" stroke="#222" stroke-width="0.8"/>
<text x="356.6" y="459.9" text-anchor="middle" class="tk">15:00</text>
<line x1="411.6" y1="445.5" x2="411.6" y2="449.0" stroke="#222" stroke-width="0.8"/>
<text x="411.6" y="459.9" text-anchor="middle" class="tk">15:30</text>
<line x1="466.6" y1="445.5" x2="466.6" y2="449.0" stroke="#222" stroke-width="0.8"/>
<text x="466.6" y="459.9" text-anchor="middle" class="tk">16:00</text>
<line x1="521.5" y1="445.5" x2="521.5" y2="449.0" stroke="#222" stroke-width="0.8"/>
<text x="521.5" y="459.9" text-anchor="middle" class="tk">16:30</text>
<line x1="576.5" y1="445.5" x2="576.5" y2="449.0" stroke="#222" stroke-width="0.8"/>
<text x="576.5" y="459.9" text-anchor="middle" class="tk">17:00</text>
<line x1="631.4" y1="445.5" x2="631.4" y2="449.0" stroke="#222" stroke-width="0.8"/>
<text x="631.4" y="459.9" text-anchor="middle" class="tk">17:30</text>
<line x1="116.0" y1="445.1" x2="119.5" y2="445.1" stroke="#222" stroke-width="0.8"/>
<text x="112.4" y="448.5" text-anchor="end" class="yk">20</text>
<line x1="116.0" y1="425.5" x2="119.5" y2="425.5" stroke="#222" stroke-width="0.8"/>
<text x="112.4" y="428.9" text-anchor="end" class="yk">40</text>
<line x1="116.0" y1="405.9" x2="119.5" y2="405.9" stroke="#222" stroke-width="0.8"/>
<text x="112.4" y="409.3" text-anchor="end" class="yk">60</text>
<line x1="116.0" y1="386.3" x2="119.5" y2="386.3" stroke="#222" stroke-width="0.8"/>
<text x="112.4" y="389.7" text-anchor="end" class="yk">80</text>
<line x1="116.0" y1="366.7" x2="119.5" y2="366.7" stroke="#222" stroke-width="0.8"/>
<text x="112.4" y="370.1" text-anchor="end" class="yk">100</text>
<line x1="116.0" y1="347.1" x2="119.5" y2="347.1" stroke="#222" stroke-width="0.8"/>
<text x="112.4" y="350.5" text-anchor="end" class="yk">120</text>
<line x1="126.8" y1="533.9" x2="681" y2="533.9" stroke="#5a5a5a" stroke-opacity="0.48" stroke-width="1.6" stroke-dasharray="3.5 1.8"/><path d="M126.57 504.09 C126.93 503.89 127.91 503.28 128.76 502.92 C129.61 502.55 130.71 502.12 131.68 501.90 C132.65 501.68 133.50 501.73 134.60 501.61 C135.69 501.48 137.03 501.29 138.25 501.17 C139.46 501.05 140.56 500.92 141.90 500.88 C143.24 500.83 144.82 500.85 146.28 500.88 C147.74 500.90 149.20 501.00 150.66 501.02 C152.12 501.05 153.70 501.07 155.04 501.02 C156.37 500.97 157.71 500.73 158.69 500.73 C159.66 500.73 160.15 500.78 160.88 501.02 C161.61 501.27 162.34 501.80 163.07 502.19 C163.80 502.58 164.53 502.87 165.26 503.36 C165.99 503.84 166.84 504.43 167.45 505.11 C168.05 505.79 168.42 506.57 168.91 507.45 C169.39 508.32 169.81 509.39 170.36 510.36 C170.92 511.34 171.65 512.38 172.26 513.28 C172.87 514.18 173.36 514.94 174.01 515.77 C174.67 516.59 175.47 517.57 176.20 518.25 C176.93 518.93 177.66 519.37 178.39 519.85 C179.12 520.34 179.90 520.75 180.58 521.17 C181.27 521.58 181.87 521.78 182.48 522.34 C183.09 522.90 183.65 523.75 184.23 524.53 C184.82 525.30 185.38 526.16 185.99 527.01 C186.59 527.86 187.32 528.95 187.88 529.64 C188.44 530.32 188.73 530.85 189.34 531.09 C189.95 531.34 190.80 531.14 191.53 531.09 C192.26 531.05 192.99 530.88 193.72 530.80 C194.45 530.73 195.18 530.61 195.91 530.66 C196.64 530.71 197.42 530.97 198.10 531.09 C198.78 531.22 199.44 531.44 200.00 531.39 C200.56 531.34 200.97 530.80 201.46 530.80 C201.95 530.80 202.43 531.05 202.92 531.39 C203.41 531.73 203.84 532.65 204.38 532.85 C204.91 533.04 205.60 532.48 206.13 532.55 C206.67 532.63 207.06 533.09 207.59 533.28 C208.13 533.48 208.94 533.55 209.34 533.72 C209.74 533.89 209.60 534.01 210.00 534.31 C210.40 534.60 211.14 535.04 211.75 535.47 C212.36 535.91 213.09 536.64 213.65 536.93 C214.21 537.23 214.62 537.47 215.11 537.23 C215.60 536.98 216.08 536.20 216.57 535.47 C217.06 534.74 217.54 533.53 218.03 532.85 C218.52 532.17 219.00 531.44 219.49 531.39 C219.98 531.34 220.46 531.87 220.95 532.55 C221.44 533.24 221.92 534.62 222.41 535.47 C222.90 536.33 223.31 537.18 223.87 537.66 C224.43 538.15 225.16 538.44 225.77 538.39 C226.37 538.35 226.93 537.74 227.52 537.37 C228.10 537.01 228.59 536.40 229.27 536.20 C229.95 536.01 230.92 536.33 231.61 536.20 C232.29 536.08 232.77 535.77 233.36 535.47 C233.94 535.18 234.50 534.55 235.11 534.45 C235.72 534.36 236.37 534.65 237.01 534.89 C237.64 535.13 238.30 535.69 238.91 535.91 C239.51 536.13 240.12 536.52 240.66 536.20 C241.19 535.89 241.63 535.23 242.12 534.01 C242.60 532.80 243.09 530.97 243.58 528.91 C244.06 526.84 244.55 523.80 245.04 521.61 C245.52 519.42 246.01 517.15 246.50 515.77 C246.98 514.38 247.52 513.60 247.96 513.28 C248.39 512.97 248.76 513.21 249.12 513.87 C249.49 514.53 249.78 516.06 250.15 517.23 C250.51 518.39 250.90 519.90 251.31 520.88 C251.73 521.85 252.17 522.75 252.63 523.07 C253.09 523.38 253.60 522.90 254.09 522.77 C254.57 522.65 255.06 522.29 255.55 522.34 C256.03 522.38 256.45 522.70 257.01 523.07 C257.57 523.43 258.35 524.16 258.91 524.53 C259.46 524.89 259.81 525.18 260.36 525.26 C260.92 525.33 261.65 524.84 262.26 524.96 C262.87 525.09 263.43 525.64 264.01 525.99 C264.60 526.33 265.16 526.93 265.77 527.01 C266.37 527.08 267.03 526.72 267.66 526.42 C268.30 526.13 268.91 525.64 269.56 525.26 C270.22 524.87 270.95 524.26 271.61 524.09 C272.26 523.92 272.87 524.14 273.50 524.23 C274.14 524.33 274.79 524.62 275.40 524.67 C276.01 524.72 276.62 524.38 277.15 524.53 C277.69 524.67 278.13 524.99 278.61 525.55 C279.10 526.11 279.59 527.25 280.07 527.88 C280.56 528.52 281.09 529.25 281.53 529.34 C281.97 529.44 282.26 529.15 282.70 528.47 C283.14 527.79 283.67 526.20 284.16 525.26 C284.65 524.31 285.09 523.26 285.62 522.77 C286.16 522.29 286.72 522.46 287.37 522.34 C288.03 522.21 288.83 522.14 289.56 522.04 C290.29 521.95 291.02 521.90 291.75 521.75 C292.48 521.61 293.21 521.44 293.94 521.17 C294.67 520.90 295.40 520.39 296.13 520.15 C296.86 519.90 297.68 519.83 298.32 519.71 C298.97 519.59 299.48 519.83 300.00 519.42 C300.52 519.00 300.92 518.20 301.46 517.23 C302.00 516.25 302.68 514.60 303.21 513.58 C303.75 512.55 304.18 511.58 304.67 511.09 C305.16 510.61 305.57 510.44 306.13 510.66 C306.69 510.88 307.40 511.73 308.03 512.41 C308.66 513.09 309.32 514.11 309.93 514.74 C310.54 515.38 311.09 515.86 311.68 516.20 C312.26 516.55 312.90 516.55 313.43 516.79 C313.97 517.03 314.40 517.10 314.89 517.66 C315.38 518.22 315.86 519.54 316.35 520.15 C316.84 520.75 317.32 521.44 317.81 521.31 C318.30 521.19 318.83 520.27 319.27 519.42 C319.71 518.56 320.00 516.98 320.44 516.20 C320.88 515.43 321.41 514.89 321.90 514.74 C322.38 514.60 322.87 514.74 323.36 515.33 C323.84 515.91 324.33 517.32 324.82 518.25 C325.30 519.17 325.79 520.39 326.28 520.88 C326.76 521.36 327.25 521.41 327.74 521.17 C328.22 520.92 328.66 520.24 329.20 519.42 C329.73 518.59 330.34 517.23 330.95 516.20 C331.56 515.18 332.21 514.14 332.85 513.28 C333.48 512.43 334.14 511.53 334.74 511.09 C335.35 510.66 335.91 510.54 336.50 510.66 C337.08 510.78 337.64 511.22 338.25 511.82 C338.86 512.43 339.46 513.41 340.15 514.31 C340.83 515.21 341.61 516.45 342.34 517.23 C343.07 518.00 343.84 518.71 344.53 518.98 C345.21 519.25 345.82 519.12 346.42 518.83 C347.03 518.54 347.52 517.91 348.18 517.23 C348.83 516.55 349.64 515.47 350.36 514.74 C351.09 514.01 351.82 513.53 352.55 512.85 C353.28 512.17 354.01 511.31 354.74 510.66 C355.47 510.00 356.28 509.25 356.93 508.91 C357.59 508.56 358.15 508.44 358.69 508.61 C359.22 508.78 359.66 509.54 360.15 509.93 C360.63 510.32 361.05 510.90 361.61 510.95 C362.17 511.00 362.94 510.39 363.50 510.22 C364.06 510.05 364.48 509.73 364.96 509.93 C365.45 510.12 365.94 510.83 366.42 511.39 C366.91 511.95 367.40 512.85 367.88 513.28 C368.37 513.72 368.78 514.16 369.34 514.01 C369.90 513.87 370.58 512.97 371.24 512.41 C371.90 511.85 372.58 511.19 373.28 510.66 C373.99 510.12 374.79 509.56 375.47 509.20 C376.16 508.83 376.74 508.64 377.37 508.47 C378.00 508.30 378.66 508.10 379.27 508.18 C379.88 508.25 380.41 508.61 381.02 508.91 C381.63 509.20 382.26 509.61 382.92 509.93 C383.58 510.24 384.31 510.61 384.96 510.80 C385.62 511.00 386.23 511.17 386.86 511.09 C387.49 511.02 388.24 510.68 388.76 510.36 C389.28 510.05 389.43 509.71 390.00 509.20 C390.57 508.69 391.46 507.86 392.19 507.30 C392.92 506.74 393.65 506.25 394.38 505.84 C395.11 505.43 395.84 504.99 396.57 504.82 C397.30 504.65 398.03 504.65 398.76 504.82 C399.49 504.99 400.22 505.40 400.95 505.84 C401.68 506.28 402.41 506.96 403.14 507.45 C403.87 507.93 404.60 508.56 405.33 508.76 C406.06 508.95 406.79 508.91 407.52 508.61 C408.25 508.32 408.98 507.57 409.71 507.01 C410.44 506.45 411.17 505.74 411.90 505.26 C412.63 504.77 413.36 504.40 414.09 504.09 C414.82 503.77 415.55 503.48 416.28 503.36 C417.01 503.24 417.79 503.24 418.47 503.36 C419.15 503.48 419.71 503.75 420.36 504.09 C421.02 504.43 421.68 504.96 422.41 505.40 C423.14 505.84 423.94 506.33 424.74 506.72 C425.55 507.10 426.40 507.40 427.23 507.74 C428.05 508.08 428.86 508.39 429.71 508.76 C430.56 509.12 431.41 509.56 432.34 509.93 C433.26 510.29 434.28 510.66 435.26 510.95 C436.23 511.24 437.32 511.44 438.18 511.68 C439.03 511.92 439.68 512.29 440.36 512.41 C441.05 512.53 441.70 512.65 442.26 512.41 C442.82 512.17 443.19 511.56 443.72 510.95 C444.26 510.34 444.82 509.44 445.47 508.76 C446.13 508.08 446.93 507.37 447.66 506.86 C448.39 506.35 449.12 505.99 449.85 505.69 C450.58 505.40 451.31 505.23 452.04 505.11 C452.77 504.99 453.50 504.89 454.23 504.96 C454.96 505.04 455.69 505.28 456.42 505.55 C457.15 505.82 457.88 506.20 458.61 506.57 C459.34 506.93 460.12 507.42 460.80 507.74 C461.48 508.05 462.04 508.32 462.70 508.47 C463.36 508.61 464.09 508.49 464.74 508.61 C465.40 508.73 465.96 508.93 466.64 509.20 C467.32 509.46 468.10 509.88 468.83 510.22 C469.56 510.56 470.29 510.97 471.02 511.24 C471.75 511.51 472.36 511.63 473.21 511.82 C474.06 512.02 475.16 512.17 476.13 512.41 C477.10 512.65 478.41 513.04 479.05 513.28 C479.70 513.53 479.36 513.72 480.00 513.87 C480.64 514.01 481.95 514.04 482.92 514.16 C483.89 514.28 484.87 514.38 485.84 514.60 C486.81 514.82 487.91 515.28 488.76 515.47 C489.61 515.67 490.22 515.82 490.95 515.77 C491.68 515.72 492.41 515.26 493.14 515.18 C493.87 515.11 494.65 515.11 495.33 515.33 C496.01 515.55 496.57 516.11 497.23 516.50 C497.88 516.89 498.54 517.42 499.27 517.66 C500.00 517.91 500.92 518.03 501.61 517.96 C502.29 517.88 502.77 517.64 503.36 517.23 C503.94 516.81 504.43 516.13 505.11 515.47 C505.79 514.82 506.64 513.99 507.45 513.28 C508.25 512.58 509.15 511.78 509.93 511.24 C510.71 510.71 511.39 510.32 512.12 510.07 C512.85 509.83 513.63 509.68 514.31 509.78 C514.99 509.88 515.55 510.36 516.20 510.66 C516.86 510.95 517.47 511.31 518.25 511.53 C519.03 511.75 519.95 511.75 520.88 511.97 C521.80 512.19 522.82 512.55 523.80 512.85 C524.77 513.14 525.74 513.48 526.72 513.72 C527.69 513.97 528.66 514.14 529.64 514.31 C530.61 514.48 531.63 514.55 532.55 514.74 C533.48 514.94 534.33 515.21 535.18 515.47 C536.03 515.74 536.76 516.08 537.66 516.35 C538.56 516.62 539.61 516.84 540.58 517.08 C541.56 517.32 542.53 517.59 543.50 517.81 C544.48 518.03 545.57 518.35 546.42 518.39 C547.27 518.44 547.88 518.15 548.61 518.10 C549.34 518.05 549.95 518.05 550.80 518.10 C551.65 518.15 552.75 518.32 553.72 518.39 C554.70 518.47 555.67 518.54 556.64 518.54 C557.62 518.54 558.71 518.37 559.56 518.39 C560.41 518.42 561.02 518.52 561.75 518.69 C562.48 518.86 563.21 519.22 563.94 519.42 C564.67 519.61 565.28 519.76 566.13 519.85 C566.98 519.95 568.08 519.93 569.05 520.00 C570.02 520.07 571.00 520.17 571.97 520.29 C572.94 520.41 574.04 520.51 574.89 520.73 C575.74 520.95 576.40 521.22 577.08 521.61 C577.76 522.00 578.49 522.75 578.98 523.07 C579.46 523.38 579.00 523.38 580.00 523.50 C581.00 523.63 583.92 524.23 585.00 523.80 C586.08 523.36 585.97 521.73 586.46 520.88 C586.95 520.02 587.48 519.12 587.92 518.69 C588.36 518.25 588.65 517.88 589.09 518.25 C589.53 518.61 590.01 519.95 590.55 520.88 C591.08 521.80 591.72 522.94 592.30 523.80 C592.88 524.65 593.44 525.60 594.05 525.99 C594.66 526.37 595.27 526.30 595.95 526.13 C596.63 525.96 597.41 525.52 598.14 524.96 C598.87 524.40 599.60 523.50 600.33 522.77 C601.06 522.04 601.79 521.27 602.52 520.58 C603.25 519.90 603.98 519.22 604.71 518.69 C605.44 518.15 606.17 517.69 606.90 517.37 C607.63 517.06 608.36 516.81 609.09 516.79 C609.82 516.76 610.55 517.03 611.28 517.23 C612.01 517.42 612.74 517.64 613.47 517.96 C614.20 518.27 614.93 518.69 615.66 519.12 C616.39 519.56 617.12 520.24 617.85 520.58 C618.58 520.92 619.23 521.09 620.04 521.17 C620.84 521.24 621.81 521.12 622.66 521.02 C623.52 520.92 624.25 520.63 625.15 520.58 C626.05 520.54 627.09 520.63 628.07 520.73 C629.04 520.83 630.01 521.14 630.99 521.17 C631.96 521.19 633.00 520.97 633.91 520.88 C634.81 520.78 635.58 520.54 636.39 520.58 C637.19 520.63 637.92 521.02 638.72 521.17 C639.53 521.31 640.43 521.51 641.20 521.46 C641.98 521.41 642.74 521.17 643.39 520.88 C644.05 520.58 644.54 520.32 645.15 519.71 C645.75 519.10 646.36 518.00 647.04 517.23 C647.73 516.45 648.50 515.64 649.23 515.04 C649.96 514.43 650.69 514.01 651.42 513.58 C652.15 513.14 652.88 512.70 653.61 512.41 C654.34 512.12 654.95 511.92 655.80 511.82 C656.65 511.73 657.75 511.82 658.72 511.82 C659.70 511.82 660.67 511.78 661.64 511.82 C662.62 511.87 663.71 511.97 664.56 512.12 C665.41 512.26 666.02 512.43 666.75 512.70 C667.48 512.97 668.21 513.45 668.94 513.72 C669.67 513.99 670.33 514.23 671.13 514.31 C671.93 514.38 672.91 514.14 673.76 514.16 C674.61 514.18 675.51 514.31 676.24 514.45 C676.97 514.60 677.58 515.06 678.14 515.04 C678.70 515.01 679.14 514.60 679.60 514.31 C680.06 514.01 680.69 513.45 680.91 513.28" fill="none" stroke="#000" stroke-width="1.75" stroke-linejoin="round" stroke-linecap="round"/>
<line x1="115.9" y1="475.5" x2="684.5" y2="475.5" stroke="#999" stroke-width="1"/>
<line x1="115.9" y1="476.5" x2="684.5" y2="476.5" stroke="#333" stroke-width="1"/>
<line x1="119.5" y1="476.0" x2="119.5" y2="580.0" stroke="#1a1a1a" stroke-width="1"/>
<line x1="119.0" y1="579.5" x2="685.0" y2="579.5" stroke="#1a1a1a" stroke-width="1"/>
<line x1="684.5" y1="476.0" x2="684.5" y2="580.0" stroke="#1a1a1a" stroke-width="1"/>
<line x1="136.8" y1="579.5" x2="136.8" y2="583.0" stroke="#222" stroke-width="0.8"/>
<text x="136.8" y="593.9" text-anchor="middle" class="tk">13:00</text>
<line x1="191.8" y1="579.5" x2="191.8" y2="583.0" stroke="#222" stroke-width="0.8"/>
<text x="191.8" y="593.9" text-anchor="middle" class="tk">13:30</text>
<line x1="246.7" y1="579.5" x2="246.7" y2="583.0" stroke="#222" stroke-width="0.8"/>
<text x="246.7" y="593.9" text-anchor="middle" class="tk">14:00</text>
<line x1="301.7" y1="579.5" x2="301.7" y2="583.0" stroke="#222" stroke-width="0.8"/>
<text x="301.7" y="593.9" text-anchor="middle" class="tk">14:30</text>
<line x1="356.6" y1="579.5" x2="356.6" y2="583.0" stroke="#222" stroke-width="0.8"/>
<text x="356.6" y="593.9" text-anchor="middle" class="tk">15:00</text>
<line x1="411.6" y1="579.5" x2="411.6" y2="583.0" stroke="#222" stroke-width="0.8"/>
<text x="411.6" y="593.9" text-anchor="middle" class="tk">15:30</text>
<line x1="466.6" y1="579.5" x2="466.6" y2="583.0" stroke="#222" stroke-width="0.8"/>
<text x="466.6" y="593.9" text-anchor="middle" class="tk">16:00</text>
<line x1="521.5" y1="579.5" x2="521.5" y2="583.0" stroke="#222" stroke-width="0.8"/>
<text x="521.5" y="593.9" text-anchor="middle" class="tk">16:30</text>
<line x1="576.5" y1="579.5" x2="576.5" y2="583.0" stroke="#222" stroke-width="0.8"/>
<text x="576.5" y="593.9" text-anchor="middle" class="tk">17:00</text>
<line x1="631.4" y1="579.5" x2="631.4" y2="583.0" stroke="#222" stroke-width="0.8"/>
<text x="631.4" y="593.9" text-anchor="middle" class="tk">17:30</text>
<line x1="116.0" y1="579.3" x2="119.5" y2="579.3" stroke="#222" stroke-width="0.8"/>
<text x="112.4" y="582.7" text-anchor="end" class="yk">0</text>
<line x1="116.0" y1="558.7" x2="119.5" y2="558.7" stroke="#222" stroke-width="0.8"/>
<text x="112.4" y="562.1" text-anchor="end" class="yk">20</text>
<line x1="116.0" y1="538.1" x2="119.5" y2="538.1" stroke="#222" stroke-width="0.8"/>
<text x="112.4" y="541.5" text-anchor="end" class="yk">40</text>
<line x1="116.0" y1="517.5" x2="119.5" y2="517.5" stroke="#222" stroke-width="0.8"/>
<text x="112.4" y="520.9" text-anchor="end" class="yk">60</text>
<line x1="116.0" y1="496.9" x2="119.5" y2="496.9" stroke="#222" stroke-width="0.8"/>
<text x="112.4" y="500.3" text-anchor="end" class="yk">80</text>
<line x1="116.0" y1="476.3" x2="119.5" y2="476.3" stroke="#222" stroke-width="0.8"/>
<text x="112.4" y="479.7" text-anchor="end" class="yk">100</text>
<path d="M122.6 650.1 L123.1 648.7 L123.5 650.4 L124.0 649.7 L124.4 649.9 L124.9 649.1 L125.3 650.9 L125.8 650.9 L126.2 649.9 L126.7 650.1 L127.1 650.6 L127.6 650.9 L128.0 650.0 L128.5 649.6 L128.9 651.2 L129.4 649.8 L129.8 650.5 L130.3 649.1 L130.7 650.4 L131.2 649.9 L131.6 649.5 L132.1 651.3 L132.5 651.4 L133.0 650.1 L133.4 651.1 L133.9 651.3 L134.3 649.7 L134.8 651.1 L135.2 651.0 L135.7 650.2 L136.1 650.0 L136.6 651.6 L137.0 651.4 L137.5 650.2 L137.9 651.4 L138.4 652.0 L138.8 651.7 L139.3 652.2 L139.7 652.7 L140.2 652.1 L140.6 651.4 L141.1 652.9 L141.5 652.7 L142.0 651.8 L142.4 653.1 L142.9 653.4 L143.3 651.8 L143.8 651.9 L144.2 653.6 L144.7 652.4 L145.1 653.9 L145.6 651.1 L146.0 653.8 L146.5 653.8 L146.9 654.3 L147.4 654.3 L147.8 654.1 L148.3 652.9 L148.7 654.2 L149.2 654.6 L149.6 652.7 L150.1 654.6 L150.5 654.5 L151.0 654.4 L151.4 654.1 L151.9 654.1 L152.3 653.3 L152.8 655.1 L153.2 654.6 L153.7 654.5 L154.1 654.9 L154.6 654.4 L155.0 654.8 L155.5 655.0 L155.9 655.6 L156.4 655.6 L156.8 652.2 L157.3 655.4 L157.7 655.8 L158.2 655.8 L158.6 654.5 L159.1 653.0 L159.5 654.2 L160.0 656.1 L160.4 655.7 L160.9 656.2 L161.3 656.3 L161.8 656.3 L162.2 654.5 L162.7 655.9 L163.1 656.3 L163.6 656.1 L164.0 656.3 L164.5 656.1 L164.9 656.5 L165.4 656.7 L165.8 655.5 L166.3 656.5 L166.7 656.6 L167.2 656.3 L167.6 657.1 L168.1 657.1 L168.5 656.9 L169.0 657.1 L169.4 655.6 L169.9 656.2 L170.3 656.7 L170.8 657.2 L171.2 657.3 L171.7 657.3 L172.1 657.3 L172.6 657.0 L173.0 656.5 L173.5 656.2 L173.9 656.3 L174.4 656.9 L174.8 655.6 L175.3 656.2 L175.7 657.4 L176.2 656.2 L176.6 656.8 L177.1 658.0 L177.5 657.7 L178.0 657.3 L178.4 658.0 L178.9 658.6 L179.3 660.2 L179.8 661.0 L180.2 661.8 L180.7 661.9 L181.1 662.6 L181.6 663.8 L182.0 664.1 L182.5 665.6 L182.9 665.9 L183.4 665.8 L183.8 667.0 L184.3 666.0 L184.7 666.0 L185.2 666.6 L185.6 666.7 L186.1 666.2 L186.5 666.5 L187.0 667.4 L187.4 666.4 L187.9 666.8 L188.3 667.5 L188.8 666.6 L189.2 666.6 L189.7 666.9 L190.1 667.0 L190.6 666.1 L191.0 665.9 L191.5 667.5 L191.9 666.3 L192.4 667.0 L192.8 667.3 L193.3 667.2 L193.7 667.2 L194.2 665.8 L194.6 666.0 L195.1 665.8 L195.5 666.8 L196.0 666.4 L196.4 666.9 L196.9 666.3 L197.3 666.6 L197.8 666.3 L198.2 666.6 L198.7 665.2 L199.1 665.0 L199.6 665.1 L200.0 666.2 L200.5 665.0 L200.9 666.3 L201.4 666.5 L201.8 666.8 L202.3 666.7 L202.7 666.8 L203.2 666.5 L203.6 666.8 L204.1 666.0 L204.5 666.6 L205.0 666.3 L205.4 667.2 L205.9 667.6 L206.3 668.0 L206.8 669.4 L207.2 668.5 L207.7 669.9 L208.1 670.5 L208.6 669.2 L209.0 670.2 L209.5 670.7 L209.9 671.5 L210.4 671.7 L210.8 670.7 L211.3 669.0 L211.7 669.2 L212.2 668.8 L212.6 667.7 L213.1 668.2 L213.5 669.6 L214.0 668.5 L214.4 668.5 L214.9 667.9 L215.3 667.6 L215.8 665.2 L216.2 667.3 L216.7 666.7 L217.1 667.8 L217.6 667.5 L218.0 666.1 L218.5 666.2 L218.9 667.7 L219.4 666.8 L219.8 668.0 L220.3 669.0 L220.7 668.8 L221.2 668.5 L221.6 669.7 L222.1 668.7 L222.5 667.3 L223.0 667.5 L223.4 667.4 L223.9 667.5 L224.3 666.9 L224.8 666.0 L225.2 667.0 L225.7 666.3 L226.1 667.3 L226.6 666.8 L227.0 667.0 L227.5 666.4 L227.9 666.7 L228.4 665.1 L228.8 665.1 L229.3 666.3 L229.7 664.6 L230.2 665.9 L230.6 665.3 L231.1 665.0 L231.5 664.0 L232.0 664.4 L232.4 664.1 L232.9 663.3 L233.3 662.9 L233.8 663.6 L234.2 643.1 L234.7 632.3 L235.1 633.1 L235.6 632.7 L236.0 632.0 L236.5 632.0 L236.9 630.9 L237.4 631.7 L237.8 631.6 L238.3 631.7 L238.7 631.8 L239.2 630.3 L239.6 630.7 L240.1 625.7 L240.5 625.6 L241.0 624.3 L241.4 624.2 L241.9 624.1 L242.3 623.7 L242.8 622.9 L243.2 621.2 L243.7 620.9 L244.1 622.0 L244.6 621.5 L245.0 623.7 L245.5 624.2 L245.9 625.1 L246.4 623.7 L246.8 624.7 L247.3 624.0 L247.7 625.2 L248.2 623.6 L248.6 625.0 L249.1 623.2 L249.5 624.5 L250.0 627.2 L250.4 629.4 L250.9 633.4 L251.3 634.0 L251.8 633.5 L252.2 633.3 L252.7 635.1 L253.1 634.8 L253.6 634.4 L254.0 634.5 L254.5 635.5 L254.9 633.9 L255.4 634.0 L255.8 634.3 L256.3 634.2 L256.7 635.5 L257.2 634.5 L257.6 636.1 L258.1 636.5 L258.5 636.7 L259.0 636.6 L259.4 636.3 L259.9 637.3 L260.3 634.5 L260.8 638.2 L261.2 636.9 L261.7 636.5 L262.1 638.5 L262.6 639.5 L263.0 639.8 L263.5 638.7 L263.9 640.5 L264.4 638.7 L264.8 640.9 L265.3 641.7 L265.7 642.0 L266.2 641.9 L266.6 642.3 L267.1 641.9 L267.5 643.4 L268.0 643.2 L268.4 641.9 L268.9 642.8 L269.3 643.4 L269.8 643.4 L270.2 643.0 L270.7 644.2 L271.1 645.6 L271.6 646.0 L272.0 645.1 L272.5 645.2 L272.9 645.1 L273.4 645.4 L273.8 645.5 L274.3 646.8 L274.7 646.6 L275.2 647.1 L275.6 648.5 L276.1 648.6 L276.5 648.4 L277.0 649.1 L277.4 649.1 L277.9 648.6 L278.3 648.2 L278.8 648.8 L279.2 650.1 L279.7 649.1 L280.1 649.1 L280.6 649.7 L281.0 650.2 L281.5 650.2 L281.9 650.9 L282.4 649.9 L282.8 651.7 L283.3 650.5 L283.7 651.1 L284.2 651.2 L284.6 652.0 L285.1 650.3 L285.5 650.9 L286.0 650.3 L286.4 651.4 L286.9 650.8 L287.3 653.0 L287.8 652.0 L288.2 653.0 L288.7 653.0 L289.1 652.8 L289.6 653.0 L290.0 651.6 L290.5 653.7 L290.9 653.3 L291.4 653.6 L291.8 654.0 L292.3 654.2 L292.7 654.0 L293.2 652.5 L293.6 654.0 L294.1 654.1 L294.5 654.6 L295.0 655.0 L295.4 654.7 L295.9 654.0 L296.3 654.4 L296.8 651.8 L297.2 655.3 L297.7 654.6 L298.1 655.6 L298.6 655.4 L299.0 656.3 L299.5 655.0 L299.9 648.5 L300.4 645.1 L300.8 643.2 L301.3 641.0 L301.7 639.8 L302.2 640.0 L302.6 638.8 L303.1 639.2 L303.5 637.3 L304.0 636.5 L304.4 635.5 L304.9 634.9 L305.3 633.5 L305.8 632.9 L306.2 631.1 L306.7 631.3 L307.1 630.6 L307.6 629.8 L308.0 627.3 L308.5 626.6 L308.9 625.8 L309.4 625.3 L309.8 628.5 L310.3 628.4 L310.7 629.4 L311.2 629.8 L311.6 629.9 L312.1 630.7 L312.5 631.5 L313.0 631.1 L313.4 632.4 L313.9 632.8 L314.3 634.7 L314.8 639.0 L315.2 641.0 L315.7 641.1 L316.1 639.9 L316.6 640.1 L317.0 638.6 L317.5 638.5 L317.9 637.7 L318.4 638.6 L318.8 637.4 L319.3 637.6 L319.7 637.6 L320.2 637.0 L320.6 638.1 L321.1 638.0 L321.5 639.3 L322.0 640.0 L322.4 641.3 L322.9 643.0 L323.3 644.6 L323.8 645.5 L324.2 645.3 L324.7 646.9 L325.1 647.3 L325.6 647.7 L326.0 648.5 L326.5 647.9 L326.9 648.3 L327.4 648.7 L327.8 648.9 L328.3 650.6 L328.7 649.3 L329.2 651.1 L329.6 651.5 L330.1 650.8 L330.5 652.2 L331.0 651.4 L331.4 651.4 L331.9 651.4 L332.3 650.9 L332.8 650.8 L333.2 650.8 L333.7 650.5 L334.1 650.4 L334.6 652.4 L335.0 653.3 L335.5 654.2 L335.9 654.8 L336.4 655.0 L336.8 654.9 L337.3 655.6 L337.7 656.8 L338.2 656.8 L338.6 658.4 L339.1 659.5 L339.5 659.2 L340.0 659.9 L340.4 659.7 L340.9 660.0 L341.3 661.6 L341.8 662.6 L342.2 662.2 L342.7 662.1 L343.1 663.4 L343.6 663.2 L344.0 664.4 L344.5 664.7 L344.9 665.7 L345.4 666.0 L345.8 666.8 L346.3 666.0 L346.7 666.9 L347.2 668.3 L347.6 668.3 L348.1 668.2 L348.5 668.6 L349.0 669.2 L349.4 669.8 L349.9 670.2 L350.3 669.9 L350.8 669.9 L351.2 670.4 L351.7 670.4 L352.1 670.6 L352.6 671.1 L353.0 670.9 L353.5 671.3 L353.9 671.4 L354.4 670.4 L354.8 671.3 L355.3 670.8 L355.7 671.6 L356.2 671.5 L356.6 671.5 L357.1 670.8 L357.5 671.5 L358.0 672.1 L358.4 671.7 L358.9 671.9 L359.3 672.1 L359.8 671.3 L360.2 672.1 L360.7 672.6 L361.1 672.5 L361.6 672.8 L362.0 672.2 L362.5 671.8 L362.9 672.1 L363.4 673.2 L363.8 673.2 L364.3 673.3 L364.7 672.7 L365.2 672.7 L365.6 673.7 L366.1 673.2 L366.5 672.9 L367.0 673.0 L367.4 674.1 L367.9 673.4 L368.3 674.0 L368.8 673.3 L369.2 673.0 L369.7 673.8 L370.1 673.3 L370.6 673.1 L371.0 672.9 L371.5 673.1 L371.9 673.3 L372.4 672.8 L372.8 672.8 L373.3 673.3 L373.7 672.5 L374.2 672.7 L374.6 673.0 L375.1 672.7 L375.5 673.3 L376.0 672.6 L376.4 672.9 L376.9 672.6 L377.3 673.3 L377.8 673.3 L378.2 673.0 L378.7 672.6 L379.1 672.7 L379.6 672.7 L380.0 673.3 L380.5 672.8 L380.9 672.6 L381.4 673.4 L381.8 672.8 L382.3 672.8 L382.7 673.3 L383.2 672.9 L383.6 673.4 L384.1 672.8 L384.5 673.2 L385.0 672.8 L385.4 673.3 L385.9 672.6 L386.3 673.1 L386.8 673.0 L387.2 673.4 L387.7 672.9 L388.1 673.0 L388.6 673.0 L389.0 673.4 L389.5 673.1 L389.9 672.8 L390.4 673.2 L390.8 673.1 L391.3 673.3 L391.7 672.2 L392.2 672.9 L392.6 673.1 L393.1 672.9 L393.5 672.4 L394.0 672.1 L394.4 673.1 L394.9 673.0 L395.3 672.9 L395.8 671.9 L396.2 671.6 L396.7 672.5 L397.1 672.1 L397.6 671.3 L398.0 672.0 L398.5 671.5 L398.9 672.4 L399.4 672.6 L399.8 671.6 L400.3 672.7 L400.7 672.4 L401.2 671.5 L401.6 672.4 L402.1 671.6 L402.5 671.1 L403.0 672.0 L403.4 670.9 L403.9 671.6 L404.3 671.0 L404.8 671.4 L405.2 671.6 L405.7 671.7 L406.1 671.7 L406.6 671.8 L407.0 671.8 L407.5 670.9 L407.9 670.9 L408.4 671.1 L408.8 671.7 L409.3 671.1 L409.7 671.6 L410.2 672.0 L410.6 671.9 L411.1 672.3 L411.5 672.3 L412.0 671.9 L412.4 671.5 L412.9 672.2 L413.3 672.5 L413.8 672.5 L414.2 672.4 L414.7 671.8 L415.1 671.8 L415.6 672.0 L416.0 673.0 L416.5 672.9 L416.9 672.9 L417.4 671.7 L417.8 671.7 L418.3 672.4 L418.7 672.5 L419.2 672.2 L419.6 672.3 L420.1 672.0 L420.5 672.1 L421.0 671.5 L421.4 671.5 L421.9 671.6 L422.3 671.6 L422.8 670.7 L423.2 671.5 L423.7 671.5 L424.1 671.0 L424.6 671.3 L425.0 670.6 L425.5 670.7 L425.9 671.2 L426.4 670.8 L426.8 671.1 L427.3 670.8 L427.7 670.0 L428.2 671.0 L428.6 670.6 L429.1 670.8 L429.5 670.0 L430.0 670.9 L430.4 670.4 L430.9 670.5 L431.3 670.5 L431.8 670.2 L432.2 669.9 L432.7 670.2 L433.1 670.1 L433.6 669.9 L434.0 670.5 L434.5 670.5 L434.9 671.0 L435.4 670.8 L435.8 670.9 L436.3 670.0 L436.7 670.9 L437.2 670.9 L437.6 670.4 L438.1 670.5 L438.5 670.9 L439.0 670.2 L439.4 670.9 L439.9 670.6 L440.3 671.1 L440.8 671.1 L441.2 670.2 L441.7 670.8 L442.1 671.4 L442.6 670.2 L443.0 671.2 L443.5 671.1 L443.9 670.4 L444.4 671.7 L444.8 672.0 L445.3 671.2 L445.7 671.7 L446.2 672.1 L446.6 673.0 L447.1 672.5 L447.5 673.7 L448.0 674.1 L448.4 674.6 L448.9 674.2 L449.3 674.7 L449.8 674.0 L450.2 674.3 L450.7 673.9 L451.1 675.1 L451.6 675.0 L452.0 675.0 L452.5 674.2 L452.9 675.2 L453.4 674.9 L453.8 675.1 L454.3 674.6 L454.7 674.7 L455.2 674.8 L455.6 674.8 L456.1 675.1 L456.5 675.1 L457.0 674.8 L457.4 675.0 L457.9 674.6 L458.3 674.5 L458.8 674.5 L459.2 674.4 L459.7 674.5 L460.1 674.6 L460.6 674.8 L461.0 674.4 L461.5 674.3 L461.9 674.5 L462.4 674.5 L462.8 674.2 L463.3 673.4 L463.7 673.7 L464.2 674.3 L464.6 674.0 L465.1 674.0 L465.5 673.5 L466.0 674.0 L466.4 673.4 L466.9 673.8 L467.3 673.4 L467.8 673.1 L468.2 673.6 L468.7 673.3 L469.1 673.6 L469.6 673.3 L470.0 673.8 L470.5 673.9 L470.9 673.4 L471.4 672.8 L471.8 673.5 L472.3 672.9 L472.7 673.6 L473.2 673.5 L473.6 673.7 L474.1 673.5 L474.5 673.8 L475.0 673.1 L475.4 673.7 L475.9 673.8 L476.3 673.6 L476.8 674.0 L477.2 673.9 L477.7 673.2 L478.1 674.0 L478.6 673.2 L479.0 674.2 L479.5 673.8 L479.9 673.5 L480.4 673.1 L480.8 673.9 L481.3 674.1 L481.7 673.8 L482.2 673.3 L482.6 674.0 L483.1 674.2 L483.5 674.0 L484.0 673.5 L484.4 674.1 L484.9 674.0 L485.3 674.5 L485.8 674.0 L486.2 674.8 L486.7 674.2 L487.1 675.2 L487.6 674.6 L488.0 674.1 L488.5 674.8 L488.9 674.9 L489.4 674.7 L489.8 674.9 L490.3 674.5 L490.7 674.0 L491.2 675.3 L491.6 674.5 L492.1 674.8 L492.5 675.4 L493.0 675.1 L493.4 675.7 L493.9 675.4 L494.3 675.4 L494.8 674.9 L495.2 675.8 L495.7 676.2 L496.1 676.3 L496.6 676.3 L497.0 675.6 L497.5 675.8 L497.9 676.7 L498.4 676.6 L498.8 676.6 L499.3 676.8 L499.7 676.0 L500.2 676.9 L500.6 677.0 L501.1 676.3 L501.5 676.3 L502.0 676.9 L502.4 677.7 L502.9 676.9 L503.3 677.0 L503.8 678.0 L504.2 677.3 L504.7 677.5 L505.1 678.4 L505.6 678.7 L506.0 678.1 L506.5 678.4 L506.9 679.3 L507.4 679.4 L507.8 679.5 L508.3 679.7 L508.7 679.5 L509.2 679.9 L509.6 679.1 L510.1 679.9 L510.5 679.9 L511.0 680.2 L511.4 680.0 L511.9 679.7 L512.3 680.2 L512.8 680.2 L513.2 679.4 L513.7 680.1 L514.1 679.5 L514.6 679.1 L515.0 679.0 L515.5 679.8 L515.9 679.8 L516.4 679.7 L516.8 679.3 L517.3 679.6 L517.7 679.5 L518.2 679.5 L518.6 679.1 L519.1 678.8 L519.5 678.9 L520.0 679.2 L520.4 679.3 L520.9 678.5 L521.3 678.6 L521.8 678.7 L522.2 678.7 L522.7 679.0 L523.1 678.9 L523.6 678.3 L524.0 678.6 L524.5 678.1 L524.9 678.0 L525.4 678.6 L525.8 678.1 L526.3 678.4 L526.7 678.0 L527.2 678.4 L527.6 678.3 L528.1 678.4 L528.5 677.5 L529.0 677.8 L529.4 678.3 L529.9 678.2 L530.3 678.0 L530.8 678.0 L531.2 678.0 L531.7 677.7 L532.1 677.9 L532.6 677.4 L533.0 677.9 L533.5 677.2 L533.9 677.9 L534.4 677.3 L534.8 677.7 L535.3 677.0 L535.7 676.8 L536.2 677.6 L536.6 677.4 L537.1 676.8 L537.5 677.5 L538.0 677.2 L538.4 676.8 L538.9 676.6 L539.3 677.0 L539.8 676.6 L540.2 676.8 L540.7 677.1 L541.1 677.1 L541.6 676.2 L542.0 676.5 L542.5 676.3 L542.9 676.8 L543.4 677.5 L544.2 676.3 L545.0 676.8 L545.8 675.5 L546.6 675.7 L547.4 676.1 L548.2 675.7 L549.0 677.4 L549.8 676.0 L550.6 676.6 L551.4 677.9 L552.2 676.0 L553.0 676.6 L553.8 677.9 L554.6 675.4 L555.4 677.7 L556.2 677.3 L557.0 675.6 L557.8 676.1 L558.6 677.3 L559.4 675.9 L560.2 676.5 L561.0 675.7 L561.8 677.5 L562.6 677.9 L563.4 678.3 L564.2 678.5 L565.0 677.3 L565.8 677.4 L566.6 676.2 L567.4 677.4 L568.2 678.4 L569.0 675.9 L569.8 676.7 L570.6 676.7 L571.4 677.0 L572.2 675.7 L573.0 677.0 L573.8 676.5 L574.6 677.0 L575.4 676.5 L576.2 677.8 L577.0 676.4 L577.8 676.5 L578.6 677.8 L579.4 675.9 L580.2 675.9 L581.0 677.8 L581.8 678.2 L582.6 677.9 L583.4 678.4 L584.2 677.9 L585.0 677.7 L585.8 678.3 L586.6 678.5 L587.0 679.3 L587.5 679.0 L587.9 680.6 L588.4 681.1 L588.8 681.1 L589.3 681.5 L589.7 682.6 L590.2 682.7 L590.6 682.9 L591.1 683.6 L591.5 683.3 L592.0 683.2 L592.4 682.7 L592.9 682.8 L593.3 682.2 L593.8 681.5 L594.2 681.8 L594.7 681.4 L595.1 680.2 L595.6 680.7 L596.0 679.4 L596.5 679.9 L596.9 680.9 L597.4 681.6 L597.8 682.2 L598.3 683.1 L598.7 682.8 L599.2 683.7 L599.6 683.8 L600.1 683.8 L600.5 684.2 L601.0 684.2 L601.4 684.7 L601.9 683.9 L602.3 684.8 L602.8 684.8 L603.2 684.7 L603.7 684.7 L604.1 684.3 L604.6 685.2 L605.0 684.7 L605.5 684.8 L605.9 684.9 L606.4 685.1 L606.8 684.5 L607.3 684.7 L607.7 684.5 L608.2 684.7 L608.6 684.8 L609.1 684.7 L609.5 684.7 L610.0 683.9 L610.4 684.6 L610.9 684.6 L611.3 684.6 L611.8 682.8 L612.2 682.6 L612.7 681.9 L613.1 681.9 L613.9 681.1 L614.7 681.5 L615.5 679.4 L616.3 680.2 L617.1 681.6 L617.9 680.8 L618.7 678.6 L619.5 678.1 L620.3 678.2 L621.1 679.2 L621.9 680.1 L622.7 679.5 L623.5 679.5 L624.3 679.2 L625.1 680.6 L625.9 680.5 L626.7 680.3 L627.5 680.3 L628.3 678.8 L629.1 679.5 L629.9 678.3 L630.7 677.7 L631.5 677.7 L632.3 678.5 L633.1 679.7 L633.9 680.0 L634.7 679.8 L635.5 679.8 L636.3 680.2 L637.1 678.8 L637.9 678.9 L638.7 678.1 L639.5 677.7 L640.3 677.5 L641.1 679.4 L641.9 679.5 L642.7 677.3 L643.5 677.9 L644.3 679.4 L645.1 681.5 L645.6 681.6 L646.0 682.2 L646.5 682.8 L646.9 682.5 L647.4 682.8 L647.8 683.2 L648.3 684.0 L648.7 683.5 L649.2 684.6 L649.6 683.8 L650.1 683.9 L650.5 684.1 L651.0 684.6 L651.4 684.7 L651.9 683.9 L652.3 683.9 L652.8 684.7 L653.2 684.0 L653.7 684.7 L654.1 684.4 L654.6 684.4 L655.0 683.2 L655.5 683.3 L655.9 683.6 L656.4 683.5 L656.8 683.1 L657.3 682.8 L657.7 683.3 L658.2 682.8 L658.6 682.8 L659.1 681.8 L659.5 681.9 L660.0 682.4 L660.4 682.3 L660.9 681.7 L661.3 682.8 L662.1 681.3 L662.9 680.7 L663.7 679.9 L664.5 681.6 L665.3 679.6 L666.1 681.0 L666.9 679.5 L667.7 680.6 L668.5 678.9 L669.3 680.0 L670.1 679.6 L670.9 680.1 L671.7 680.2 L672.5 679.4 L673.3 679.0 L674.1 680.3 L674.9 679.2 L675.7 678.5 L676.5 678.2 L677.3 678.2 L678.1 679.4 L678.9 678.9 L679.7 678.0 L680.5 678.5 L680.5 682.9 L679.7 682.6 L678.9 682.0 L678.1 681.2 L677.3 682.9 L676.5 683.2 L675.7 682.4 L674.9 683.3 L674.1 683.8 L673.3 683.0 L672.5 682.5 L671.7 683.5 L670.9 683.3 L670.1 683.9 L669.3 683.7 L668.5 682.3 L667.7 684.0 L666.9 684.7 L666.1 683.1 L665.3 683.4 L664.5 685.3 L663.7 684.1 L662.9 684.2 L662.1 685.1 L661.3 685.4 L660.9 685.3 L660.4 685.1 L660.0 685.4 L659.5 685.6 L659.1 686.5 L658.6 685.9 L658.2 686.9 L657.7 686.3 L657.3 686.5 L656.8 686.3 L656.4 686.5 L655.9 686.6 L655.5 686.7 L655.0 687.0 L654.6 686.9 L654.1 687.3 L653.7 687.5 L653.2 687.7 L652.8 687.2 L652.3 688.0 L651.9 687.6 L651.4 687.2 L651.0 687.5 L650.5 686.9 L650.1 686.9 L649.6 686.8 L649.2 686.8 L648.7 686.7 L648.3 687.1 L647.8 687.0 L647.4 686.2 L646.9 685.9 L646.5 686.1 L646.0 685.9 L645.6 685.3 L645.1 685.0 L644.3 683.2 L643.5 683.6 L642.7 681.7 L641.9 683.3 L641.1 681.9 L640.3 683.9 L639.5 681.4 L638.7 681.4 L637.9 682.2 L637.1 683.2 L636.3 683.6 L635.5 683.5 L634.7 684.1 L633.9 681.6 L633.1 683.6 L632.3 683.6 L631.5 681.8 L630.7 682.7 L629.9 683.7 L629.1 683.6 L628.3 683.1 L627.5 683.9 L626.7 682.0 L625.9 683.4 L625.1 684.4 L624.3 683.5 L623.5 681.9 L622.7 683.9 L621.9 682.9 L621.1 684.7 L620.3 683.2 L619.5 684.1 L618.7 684.4 L617.9 683.8 L617.1 683.2 L616.3 685.7 L615.5 684.3 L614.7 684.9 L613.9 686.2 L613.1 686.0 L612.7 685.8 L612.2 686.8 L611.8 687.0 L611.3 687.1 L610.9 687.4 L610.4 687.3 L610.0 687.6 L609.5 687.5 L609.1 687.3 L608.6 687.7 L608.2 687.8 L607.7 688.0 L607.3 687.6 L606.8 688.3 L606.4 688.1 L605.9 687.7 L605.5 688.0 L605.0 688.2 L604.6 687.7 L604.1 688.2 L603.7 687.6 L603.2 687.3 L602.8 687.2 L602.3 687.5 L601.9 686.9 L601.4 687.1 L601.0 686.9 L600.5 686.5 L600.1 686.5 L599.6 686.4 L599.2 685.9 L598.7 686.0 L598.3 685.5 L597.8 684.9 L597.4 685.1 L596.9 684.6 L596.5 683.5 L596.0 683.8 L595.6 683.5 L595.1 684.4 L594.7 684.2 L594.2 684.3 L593.8 685.1 L593.3 685.2 L592.9 685.7 L592.4 685.6 L592.0 685.9 L591.5 686.1 L591.1 685.8 L590.6 685.5 L590.2 685.8 L589.7 684.9 L589.3 685.0 L588.8 684.1 L588.4 683.9 L587.9 683.6 L587.5 683.3 L587.0 683.0 L586.6 682.2 L585.8 682.5 L585.0 681.1 L584.2 682.5 L583.4 681.9 L582.6 679.9 L581.8 681.7 L581.0 682.1 L580.2 679.4 L579.4 681.3 L578.6 680.3 L577.8 680.8 L577.0 679.8 L576.2 680.7 L575.4 679.5 L574.6 679.5 L573.8 680.5 L573.0 679.5 L572.2 679.4 L571.4 681.3 L570.6 680.3 L569.8 681.9 L569.0 682.1 L568.2 680.5 L567.4 681.3 L566.6 682.2 L565.8 680.5 L565.0 680.3 L564.2 681.9 L563.4 680.7 L562.6 680.7 L561.8 681.0 L561.0 680.7 L560.2 681.6 L559.4 679.9 L558.6 680.2 L557.8 680.1 L557.0 679.6 L556.2 679.6 L555.4 679.1 L554.6 680.8 L553.8 681.5 L553.0 680.1 L552.2 681.6 L551.4 681.6 L550.6 679.9 L549.8 680.1 L549.0 679.1 L548.2 679.2 L547.4 680.6 L546.6 680.4 L545.8 679.3 L545.0 681.4 L544.2 679.6 L543.4 679.8 L542.9 680.2 L542.5 680.7 L542.0 681.4 L541.6 680.3 L541.1 680.9 L540.7 681.0 L540.2 681.2 L539.8 680.5 L539.3 680.1 L538.9 680.7 L538.4 680.8 L538.0 681.1 L537.5 681.2 L537.1 680.3 L536.6 680.9 L536.2 680.8 L535.7 680.9 L535.3 680.4 L534.8 680.3 L534.4 680.3 L533.9 681.1 L533.5 680.5 L533.0 681.1 L532.6 680.6 L532.1 680.7 L531.7 681.0 L531.2 681.2 L530.8 681.0 L530.3 680.6 L529.9 680.8 L529.4 680.7 L529.0 680.7 L528.5 681.4 L528.1 680.9 L527.6 681.4 L527.2 681.7 L526.7 681.6 L526.3 681.3 L525.8 681.6 L525.4 681.1 L524.9 681.2 L524.5 682.1 L524.0 682.2 L523.6 681.5 L523.1 681.5 L522.7 681.6 L522.2 681.7 L521.8 681.8 L521.3 681.7 L520.9 681.9 L520.4 681.8 L520.0 682.1 L519.5 682.3 L519.1 682.2 L518.6 682.1 L518.2 682.4 L517.7 682.9 L517.3 682.7 L516.8 682.5 L516.4 683.2 L515.9 683.0 L515.5 682.8 L515.0 682.9 L514.6 682.7 L514.1 682.9 L513.7 683.0 L513.2 683.6 L512.8 683.2 L512.3 683.8 L511.9 683.0 L511.4 683.0 L511.0 683.4 L510.5 682.9 L510.1 682.8 L509.6 682.9 L509.2 682.6 L508.7 682.8 L508.3 682.8 L507.8 682.8 L507.4 683.2 L506.9 682.3 L506.5 682.0 L506.0 682.1 L505.6 681.8 L505.1 682.1 L504.7 681.4 L504.2 681.5 L503.8 681.5 L503.3 681.7 L502.9 680.9 L502.4 681.6 L502.0 680.5 L501.5 680.6 L501.1 680.7 L500.6 680.1 L500.2 680.4 L499.7 680.5 L499.3 679.9 L498.8 679.8 L498.4 680.4 L497.9 680.4 L497.5 679.5 L497.0 680.0 L496.6 679.8 L496.1 679.3 L495.7 679.9 L495.2 679.1 L494.8 679.5 L494.3 679.3 L493.9 678.9 L493.4 679.1 L493.0 679.2 L492.5 679.4 L492.1 678.4 L491.6 678.5 L491.2 678.5 L490.7 678.7 L490.3 678.2 L489.8 678.5 L489.4 678.0 L488.9 678.3 L488.5 678.0 L488.0 678.9 L487.6 678.7 L487.1 678.8 L486.7 678.2 L486.2 678.8 L485.8 677.7 L485.3 678.0 L484.9 678.6 L484.4 677.8 L484.0 678.5 L483.5 677.9 L483.1 677.6 L482.6 677.3 L482.2 677.9 L481.7 677.5 L481.3 677.4 L480.8 677.8 L480.4 677.5 L479.9 677.5 L479.5 678.1 L479.0 677.5 L478.6 677.0 L478.1 677.2 L477.7 678.0 L477.2 677.7 L476.8 677.8 L476.3 677.3 L475.9 676.8 L475.4 676.8 L475.0 677.1 L474.5 677.4 L474.1 676.9 L473.6 676.9 L473.2 677.3 L472.7 676.9 L472.3 677.0 L471.8 677.2 L471.4 677.0 L470.9 676.9 L470.5 677.3 L470.0 677.5 L469.6 677.6 L469.1 677.4 L468.7 677.4 L468.2 677.4 L467.8 677.6 L467.3 677.3 L466.9 677.1 L466.4 676.9 L466.0 678.0 L465.5 677.0 L465.1 677.3 L464.6 677.0 L464.2 678.0 L463.7 677.2 L463.3 677.3 L462.8 677.4 L462.4 677.7 L461.9 678.2 L461.5 677.4 L461.0 677.7 L460.6 677.6 L460.1 677.7 L459.7 678.1 L459.2 677.9 L458.8 677.8 L458.3 678.2 L457.9 678.6 L457.4 677.8 L457.0 678.0 L456.5 678.1 L456.1 678.0 L455.6 678.4 L455.2 678.2 L454.7 679.2 L454.3 678.2 L453.8 678.4 L453.4 679.4 L452.9 678.8 L452.5 678.9 L452.0 678.7 L451.6 678.9 L451.1 678.8 L450.7 679.1 L450.2 679.0 L449.8 679.1 L449.3 679.2 L448.9 677.9 L448.4 678.2 L448.0 678.1 L447.5 678.1 L447.1 677.3 L446.6 678.2 L446.2 676.7 L445.7 677.5 L445.3 677.3 L444.8 676.4 L444.4 675.9 L443.9 676.6 L443.5 675.8 L443.0 676.4 L442.6 675.5 L442.1 676.0 L441.7 675.7 L441.2 674.8 L440.8 675.2 L440.3 674.7 L439.9 674.5 L439.4 674.6 L439.0 674.2 L438.5 675.2 L438.1 675.0 L437.6 674.8 L437.2 674.2 L436.7 675.0 L436.3 674.2 L435.8 674.3 L435.4 674.3 L434.9 675.4 L434.5 674.7 L434.0 674.7 L433.6 675.4 L433.1 674.2 L432.7 674.5 L432.2 674.4 L431.8 675.2 L431.3 674.2 L430.9 674.6 L430.4 674.2 L430.0 674.5 L429.5 674.5 L429.1 674.3 L428.6 675.3 L428.2 675.3 L427.7 674.7 L427.3 675.3 L426.8 675.3 L426.4 675.2 L425.9 675.3 L425.5 674.6 L425.0 675.5 L424.6 675.2 L424.1 674.8 L423.7 675.3 L423.2 674.8 L422.8 675.6 L422.3 675.0 L421.9 675.5 L421.4 676.2 L421.0 675.2 L420.5 676.2 L420.1 675.4 L419.6 676.3 L419.2 676.7 L418.7 676.3 L418.3 676.7 L417.8 675.7 L417.4 677.0 L416.9 676.1 L416.5 676.1 L416.0 676.3 L415.6 676.5 L415.1 675.9 L414.7 675.8 L414.2 675.9 L413.8 675.7 L413.3 676.5 L412.9 675.6 L412.4 675.6 L412.0 675.5 L411.5 676.1 L411.1 675.4 L410.6 675.8 L410.2 676.0 L409.7 675.4 L409.3 675.9 L408.8 675.0 L408.4 674.9 L407.9 675.7 L407.5 674.8 L407.0 674.7 L406.6 675.3 L406.1 675.1 L405.7 674.6 L405.2 674.7 L404.8 674.5 L404.3 674.4 L403.9 675.0 L403.4 675.3 L403.0 675.5 L402.5 674.9 L402.1 675.7 L401.6 676.0 L401.2 676.2 L400.7 676.5 L400.3 675.8 L399.8 675.8 L399.4 676.7 L398.9 675.9 L398.5 676.1 L398.0 676.0 L397.6 675.5 L397.1 675.3 L396.7 675.9 L396.2 676.5 L395.8 675.9 L395.3 676.1 L394.9 675.8 L394.4 675.8 L394.0 675.9 L393.5 676.5 L393.1 676.7 L392.6 676.5 L392.2 676.2 L391.7 676.6 L391.3 675.8 L390.8 676.2 L390.4 676.2 L389.9 676.5 L389.5 675.8 L389.0 676.8 L388.6 675.8 L388.1 676.0 L387.7 676.0 L387.2 675.9 L386.8 675.9 L386.3 676.1 L385.9 676.6 L385.4 676.2 L385.0 676.5 L384.5 675.8 L384.1 676.5 L383.6 675.9 L383.2 676.1 L382.7 676.3 L382.3 676.7 L381.8 675.9 L381.4 676.2 L380.9 676.0 L380.5 676.3 L380.0 676.6 L379.6 676.2 L379.1 676.6 L378.7 675.9 L378.2 676.6 L377.8 676.2 L377.3 675.9 L376.9 676.6 L376.4 676.4 L376.0 676.2 L375.5 676.3 L375.1 676.5 L374.6 677.0 L374.2 676.2 L373.7 676.6 L373.3 676.1 L372.8 676.5 L372.4 677.1 L371.9 676.5 L371.5 676.8 L371.0 676.6 L370.6 676.5 L370.1 676.8 L369.7 676.8 L369.2 677.0 L368.8 676.7 L368.3 676.9 L367.9 677.6 L367.4 676.9 L367.0 677.5 L366.5 676.9 L366.1 677.0 L365.6 677.2 L365.2 677.2 L364.7 677.1 L364.3 676.3 L363.8 676.9 L363.4 676.8 L362.9 676.1 L362.5 676.0 L362.0 675.9 L361.6 675.7 L361.1 675.7 L360.7 676.2 L360.2 675.9 L359.8 676.7 L359.3 676.0 L358.9 675.4 L358.4 676.4 L358.0 676.2 L357.5 675.2 L357.1 675.1 L356.6 675.7 L356.2 675.2 L355.7 675.2 L355.3 675.4 L354.8 675.8 L354.4 675.4 L353.9 675.6 L353.5 674.7 L353.0 675.4 L352.6 675.1 L352.1 675.1 L351.7 675.0 L351.2 674.8 L350.8 675.2 L350.3 674.6 L349.9 674.9 L349.4 673.5 L349.0 673.3 L348.5 674.3 L348.1 672.9 L347.6 673.5 L347.2 672.6 L346.7 672.2 L346.3 672.3 L345.8 671.6 L345.4 671.1 L344.9 671.3 L344.5 670.9 L344.0 669.6 L343.6 668.8 L343.1 668.9 L342.7 668.1 L342.2 667.7 L341.8 667.9 L341.3 667.9 L340.9 666.6 L340.4 665.8 L340.0 666.0 L339.5 664.5 L339.1 664.8 L338.6 665.1 L338.2 663.3 L337.7 663.3 L337.3 662.3 L336.8 661.2 L336.4 661.4 L335.9 660.8 L335.5 660.3 L335.0 659.8 L334.6 658.9 L334.1 658.9 L333.7 658.4 L333.2 658.4 L332.8 657.7 L332.3 658.7 L331.9 658.3 L331.4 658.0 L331.0 657.0 L330.5 658.1 L330.1 656.6 L329.6 656.1 L329.2 655.6 L328.7 656.1 L328.3 654.9 L327.8 655.4 L327.4 654.3 L326.9 655.4 L326.5 653.5 L326.0 654.7 L325.6 653.8 L325.1 652.6 L324.7 651.7 L324.2 650.9 L323.8 649.9 L323.3 649.6 L322.9 647.9 L322.4 647.3 L322.0 645.7 L321.5 644.5 L321.1 644.1 L320.6 644.5 L320.2 643.3 L319.7 642.8 L319.3 643.4 L318.8 644.5 L318.4 643.5 L317.9 644.2 L317.5 644.3 L317.0 646.2 L316.6 645.2 L316.1 645.8 L315.7 646.4 L315.2 645.8 L314.8 644.3 L314.3 642.6 L313.9 640.5 L313.4 640.4 L313.0 639.7 L312.5 639.5 L312.1 640.0 L311.6 638.8 L311.2 638.7 L310.7 637.9 L310.3 639.4 L309.8 637.7 L309.4 636.7 L308.9 636.6 L308.5 637.2 L308.0 636.1 L307.6 637.0 L307.1 637.4 L306.7 638.4 L306.2 639.7 L305.8 639.6 L305.3 639.3 L304.9 640.4 L304.4 641.9 L304.0 643.3 L303.5 643.8 L303.1 644.2 L302.6 644.3 L302.2 645.2 L301.7 646.6 L301.3 646.6 L300.8 649.9 L300.4 654.5 L299.9 658.7 L299.5 662.2 L299.0 663.3 L298.6 662.8 L298.1 662.7 L297.7 663.5 L297.2 663.9 L296.8 663.3 L296.3 662.8 L295.9 663.5 L295.4 663.1 L295.0 662.0 L294.5 661.5 L294.1 662.4 L293.6 661.5 L293.2 662.2 L292.7 661.3 L292.3 661.9 L291.8 661.6 L291.4 661.8 L290.9 660.9 L290.5 660.3 L290.0 661.7 L289.6 661.2 L289.1 661.3 L288.7 660.9 L288.2 660.0 L287.8 660.9 L287.3 660.9 L286.9 661.2 L286.4 660.7 L286.0 660.9 L285.5 660.0 L285.1 659.5 L284.6 659.1 L284.2 660.3 L283.7 659.8 L283.3 659.0 L282.8 659.7 L282.4 658.6 L281.9 659.5 L281.5 659.4 L281.0 659.0 L280.6 658.2 L280.1 658.7 L279.7 657.4 L279.2 657.3 L278.8 659.4 L278.3 656.8 L277.9 657.1 L277.4 656.4 L277.0 657.1 L276.5 656.1 L276.1 656.7 L275.6 655.7 L275.2 657.8 L274.7 655.8 L274.3 656.8 L273.8 656.3 L273.4 655.3 L272.9 655.2 L272.5 654.9 L272.0 654.0 L271.6 655.3 L271.1 654.1 L270.7 653.3 L270.2 654.5 L269.8 652.9 L269.3 652.7 L268.9 652.4 L268.4 653.2 L268.0 651.7 L267.5 651.5 L267.1 652.3 L266.6 650.7 L266.2 651.1 L265.7 650.8 L265.3 650.3 L264.8 649.3 L264.4 649.7 L263.9 649.7 L263.5 648.6 L263.0 649.4 L262.6 648.0 L262.1 647.2 L261.7 648.7 L261.2 647.6 L260.8 647.6 L260.3 646.4 L259.9 646.3 L259.4 645.7 L259.0 645.7 L258.5 646.0 L258.1 644.8 L257.6 644.4 L257.2 644.9 L256.7 643.8 L256.3 644.1 L255.8 643.1 L255.4 642.9 L254.9 643.2 L254.5 643.8 L254.0 643.5 L253.6 641.8 L253.1 642.4 L252.7 641.9 L252.2 642.6 L251.8 641.3 L251.3 642.9 L250.9 641.6 L250.4 641.4 L250.0 638.9 L249.5 637.9 L249.1 636.8 L248.6 637.2 L248.2 635.8 L247.7 635.7 L247.3 635.8 L246.8 637.2 L246.4 641.5 L245.9 662.6 L245.5 671.5 L245.0 670.9 L244.6 671.3 L244.1 672.6 L243.7 671.8 L243.2 672.2 L242.8 673.3 L242.3 675.6 L241.9 678.7 L241.4 681.4 L241.0 682.3 L240.5 685.0 L240.1 687.7 L239.6 699.1 L239.2 699.1 L238.7 698.3 L238.3 698.1 L237.8 700.1 L237.4 699.0 L236.9 700.4 L236.5 699.3 L236.0 698.9 L235.6 700.5 L235.1 700.0 L234.7 699.0 L234.2 698.6 L233.8 696.6 L233.3 696.2 L232.9 694.6 L232.4 694.2 L232.0 693.1 L231.5 694.9 L231.1 694.0 L230.6 695.2 L230.2 694.6 L229.7 695.9 L229.3 695.4 L228.8 696.1 L228.4 696.7 L227.9 695.1 L227.5 692.8 L227.0 691.2 L226.6 690.1 L226.1 687.9 L225.7 687.4 L225.2 685.0 L224.8 683.6 L224.3 684.0 L223.9 683.2 L223.4 682.3 L223.0 682.4 L222.5 682.0 L222.1 681.6 L221.6 680.4 L221.2 680.2 L220.7 680.5 L220.3 679.3 L219.8 676.7 L219.4 676.7 L218.9 676.7 L218.5 675.4 L218.0 676.8 L217.6 676.0 L217.1 675.6 L216.7 675.6 L216.2 676.0 L215.8 674.1 L215.3 674.7 L214.9 675.2 L214.4 675.9 L214.0 676.1 L213.5 677.6 L213.1 675.9 L212.6 675.7 L212.2 676.1 L211.7 676.6 L211.3 678.7 L210.8 677.5 L210.4 679.1 L209.9 677.3 L209.5 677.3 L209.0 676.8 L208.6 676.4 L208.1 677.0 L207.7 675.9 L207.2 675.0 L206.8 674.2 L206.3 674.5 L205.9 673.4 L205.4 672.3 L205.0 672.2 L204.5 672.5 L204.1 672.3 L203.6 672.6 L203.2 671.2 L202.7 671.3 L202.3 672.6 L201.8 672.4 L201.4 671.0 L200.9 671.4 L200.5 671.5 L200.0 671.1 L199.6 670.8 L199.1 671.4 L198.7 670.5 L198.2 671.5 L197.8 671.8 L197.3 670.9 L196.9 670.9 L196.4 671.3 L196.0 670.8 L195.5 672.2 L195.1 671.8 L194.6 671.5 L194.2 671.1 L193.7 671.7 L193.3 671.8 L192.8 672.6 L192.4 671.4 L191.9 672.8 L191.5 671.8 L191.0 672.8 L190.6 671.6 L190.1 671.5 L189.7 672.0 L189.2 671.8 L188.8 672.6 L188.3 671.9 L187.9 671.7 L187.4 672.1 L187.0 672.0 L186.5 671.9 L186.1 672.8 L185.6 673.0 L185.2 672.5 L184.7 673.9 L184.3 672.4 L183.8 672.6 L183.4 672.6 L182.9 672.5 L182.5 672.8 L182.0 672.7 L181.6 670.9 L181.1 671.3 L180.7 670.6 L180.2 669.9 L179.8 667.6 L179.3 665.8 L178.9 665.5 L178.4 664.6 L178.0 664.1 L177.5 663.9 L177.1 663.0 L176.6 663.4 L176.2 662.8 L175.7 663.0 L175.3 662.5 L174.8 661.7 L174.4 661.9 L173.9 663.0 L173.5 662.5 L173.0 662.3 L172.6 661.8 L172.1 661.6 L171.7 662.0 L171.2 661.8 L170.8 662.2 L170.3 662.2 L169.9 661.9 L169.4 662.3 L169.0 662.2 L168.5 661.9 L168.1 663.1 L167.6 663.0 L167.2 662.2 L166.7 663.3 L166.3 662.6 L165.8 662.5 L165.4 662.7 L164.9 662.1 L164.5 662.3 L164.0 662.6 L163.6 662.4 L163.1 662.3 L162.7 662.5 L162.2 663.5 L161.8 663.6 L161.3 661.9 L160.9 663.4 L160.4 663.3 L160.0 662.9 L159.5 663.4 L159.1 662.2 L158.6 662.0 L158.2 661.8 L157.7 661.9 L157.3 661.9 L156.8 663.0 L156.4 662.3 L155.9 662.1 L155.5 661.6 L155.0 662.6 L154.6 662.4 L154.1 661.5 L153.7 661.4 L153.2 661.9 L152.8 660.9 L152.3 661.8 L151.9 661.2 L151.4 661.7 L151.0 660.4 L150.5 661.9 L150.1 660.8 L149.6 660.6 L149.2 660.4 L148.7 661.5 L148.3 660.8 L147.8 660.5 L147.4 661.0 L146.9 659.7 L146.5 661.1 L146.0 660.7 L145.6 659.9 L145.1 660.1 L144.7 659.7 L144.2 659.1 L143.8 659.2 L143.3 659.3 L142.9 658.9 L142.4 659.2 L142.0 659.7 L141.5 658.5 L141.1 659.4 L140.6 659.2 L140.2 658.0 L139.7 659.6 L139.3 658.1 L138.8 658.3 L138.4 657.7 L137.9 657.6 L137.5 657.8 L137.0 657.3 L136.6 657.2 L136.1 657.5 L135.7 658.2 L135.2 657.8 L134.8 657.5 L134.3 657.0 L133.9 656.9 L133.4 658.2 L133.0 658.1 L132.5 657.1 L132.1 656.8 L131.6 656.6 L131.2 657.5 L130.7 658.3 L130.3 657.4 L129.8 657.0 L129.4 656.7 L128.9 657.3 L128.5 657.5 L128.0 656.6 L127.6 657.1 L127.1 656.5 L126.7 656.7 L126.2 656.2 L125.8 656.9 L125.3 656.2 L124.9 656.0 L124.4 657.6 L124.0 657.3 L123.5 656.4 L123.1 656.2 L122.6 655.8Z" fill="#000"/>
<line x1="241.2" y1="640.0" x2="241.2" y2="683.0" stroke="#fff" stroke-width="0.7"/>
<line x1="243.7" y1="647.0" x2="243.7" y2="670.0" stroke="#fff" stroke-width="0.6"/>
<line x1="239.0" y1="655.0" x2="239.0" y2="668.0" stroke="#fff" stroke-width="0.4"/>
<line x1="170.4" y1="661.6" x2="170.4" y2="685.7" stroke="#000" stroke-width="1.25"/>
<line x1="182.8" y1="670.4" x2="182.8" y2="693.0" stroke="#000" stroke-width="2.34"/>
<line x1="188.9" y1="621.1" x2="188.9" y2="667.5" stroke="#000" stroke-width="1.46"/>
<line x1="192.3" y1="627.0" x2="192.3" y2="667.5" stroke="#000" stroke-width="1.25"/>
<line x1="202.2" y1="653.6" x2="202.2" y2="666.7" stroke="#000" stroke-width="1.25"/>
<line x1="215.6" y1="676.2" x2="215.6" y2="692.3" stroke="#000" stroke-width="1.25"/>
<line x1="215.5" y1="674.8" x2="215.5" y2="692.3" stroke="#000" stroke-width="1.25"/>
<line x1="220.9" y1="676.2" x2="220.9" y2="685.0" stroke="#000" stroke-width="1.25"/>
<line x1="228.7" y1="621.1" x2="228.7" y2="699.6" stroke="#000" stroke-width="1.25"/>
<line x1="236.3" y1="613.5" x2="236.3" y2="655.8" stroke="#000" stroke-width="1.25"/>
<line x1="239.6" y1="613.5" x2="239.6" y2="655.8" stroke="#000" stroke-width="1.25"/>
<line x1="231.2" y1="685.0" x2="231.2" y2="698.1" stroke="#000" stroke-width="1.25"/>
<line x1="234.1" y1="685.0" x2="234.1" y2="700.3" stroke="#000" stroke-width="1.25"/>
<line x1="238.5" y1="685.0" x2="238.5" y2="700.3" stroke="#000" stroke-width="1.25"/>
<line x1="241.4" y1="670.4" x2="241.4" y2="685.0" stroke="#000" stroke-width="1.25"/>
<line x1="249.1" y1="635.4" x2="249.1" y2="672.6" stroke="#000" stroke-width="1.46"/>
<line x1="252.0" y1="641.2" x2="252.0" y2="668.9" stroke="#000" stroke-width="1.25"/>
<line x1="257.4" y1="644.1" x2="257.4" y2="666.0" stroke="#000" stroke-width="1.25"/>
<line x1="262.8" y1="647.0" x2="262.8" y2="679.9" stroke="#000" stroke-width="1.46"/>
<line x1="277.9" y1="655.8" x2="277.9" y2="682.1" stroke="#000" stroke-width="1.46"/>
<line x1="278.9" y1="655.8" x2="278.9" y2="699.6" stroke="#000" stroke-width="1.25"/>
<line x1="292.2" y1="660.2" x2="292.2" y2="699.6" stroke="#000" stroke-width="1.25"/>
<line x1="299.8" y1="655.8" x2="299.8" y2="694.5" stroke="#000" stroke-width="1.46"/>
<line x1="300.3" y1="645.6" x2="300.3" y2="693.8" stroke="#000" stroke-width="1.25"/>
<line x1="309.5" y1="624.4" x2="309.5" y2="631.0" stroke="#000" stroke-width="1.25"/>
<line x1="310.9" y1="636.8" x2="310.9" y2="694.5" stroke="#000" stroke-width="1.46"/>
<line x1="334.3" y1="657.3" x2="334.3" y2="684.3" stroke="#000" stroke-width="1.25"/>
<line x1="416.0" y1="656.5" x2="416.0" y2="673.3" stroke="#000" stroke-width="1.25"/>
<line x1="432.0" y1="673.3" x2="432.0" y2="693.3" stroke="#000" stroke-width="1.25"/>
<line x1="444.3" y1="674.8" x2="444.3" y2="694.8" stroke="#000" stroke-width="1.25"/>
<line x1="456.9" y1="657.7" x2="456.9" y2="675.5" stroke="#000" stroke-width="1.25"/>
<line x1="585.0" y1="666.0" x2="585.0" y2="677.7" stroke="#000" stroke-width="1.25"/>
<line x1="613.2" y1="627.0" x2="613.2" y2="682.1" stroke="#000" stroke-width="1.25"/>
<line x1="659.7" y1="613.5" x2="659.7" y2="685.0" stroke="#000" stroke-width="1.25"/>
<line x1="115.9" y1="609.5" x2="684.5" y2="609.5" stroke="#999" stroke-width="1"/>
<line x1="115.9" y1="610.5" x2="684.5" y2="610.5" stroke="#333" stroke-width="1"/>
<line x1="119.5" y1="610.0" x2="119.5" y2="714.0" stroke="#1a1a1a" stroke-width="1"/>
<line x1="119.0" y1="713.5" x2="685.0" y2="713.5" stroke="#1a1a1a" stroke-width="1"/>
<line x1="684.5" y1="610.0" x2="684.5" y2="714.0" stroke="#1a1a1a" stroke-width="1"/>
<line x1="136.8" y1="713.5" x2="136.8" y2="717.0" stroke="#222" stroke-width="0.8"/>
<text x="136.8" y="727.9" text-anchor="middle" class="tk">13:00</text>
<line x1="191.8" y1="713.5" x2="191.8" y2="717.0" stroke="#222" stroke-width="0.8"/>
<text x="191.8" y="727.9" text-anchor="middle" class="tk">13:30</text>
<line x1="246.7" y1="713.5" x2="246.7" y2="717.0" stroke="#222" stroke-width="0.8"/>
<text x="246.7" y="727.9" text-anchor="middle" class="tk">14:00</text>
<line x1="301.7" y1="713.5" x2="301.7" y2="717.0" stroke="#222" stroke-width="0.8"/>
<text x="301.7" y="727.9" text-anchor="middle" class="tk">14:30</text>
<line x1="356.6" y1="713.5" x2="356.6" y2="717.0" stroke="#222" stroke-width="0.8"/>
<text x="356.6" y="727.9" text-anchor="middle" class="tk">15:00</text>
<line x1="411.6" y1="713.5" x2="411.6" y2="717.0" stroke="#222" stroke-width="0.8"/>
<text x="411.6" y="727.9" text-anchor="middle" class="tk">15:30</text>
<line x1="466.6" y1="713.5" x2="466.6" y2="717.0" stroke="#222" stroke-width="0.8"/>
<text x="466.6" y="727.9" text-anchor="middle" class="tk">16:00</text>
<line x1="521.5" y1="713.5" x2="521.5" y2="717.0" stroke="#222" stroke-width="0.8"/>
<text x="521.5" y="727.9" text-anchor="middle" class="tk">16:30</text>
<line x1="576.5" y1="713.5" x2="576.5" y2="717.0" stroke="#222" stroke-width="0.8"/>
<text x="576.5" y="727.9" text-anchor="middle" class="tk">17:00</text>
<line x1="631.4" y1="713.5" x2="631.4" y2="717.0" stroke="#222" stroke-width="0.8"/>
<text x="631.4" y="727.9" text-anchor="middle" class="tk">17:30</text>
<line x1="116.0" y1="713.2" x2="119.5" y2="713.2" stroke="#222" stroke-width="0.8"/>
<text x="112.4" y="716.6" text-anchor="end" class="yk">0</text>
<line x1="116.0" y1="692.6" x2="119.5" y2="692.6" stroke="#222" stroke-width="0.8"/>
<text x="112.4" y="696.0" text-anchor="end" class="yk">50</text>
<line x1="116.0" y1="671.9" x2="119.5" y2="671.9" stroke="#222" stroke-width="0.8"/>
<text x="112.4" y="675.3" text-anchor="end" class="yk">100</text>
<line x1="116.0" y1="651.3" x2="119.5" y2="651.3" stroke="#222" stroke-width="0.8"/>
<text x="112.4" y="654.7" text-anchor="end" class="yk">150</text>
<line x1="116.0" y1="630.6" x2="119.5" y2="630.6" stroke="#222" stroke-width="0.8"/>
<text x="112.4" y="634.0" text-anchor="end" class="yk">200</text>
<line x1="116.0" y1="610.0" x2="119.5" y2="610.0" stroke="#222" stroke-width="0.8"/>
<text x="112.4" y="613.4" text-anchor="end" class="yk">250</text>
<rect x="126.5" y="343.3" width="42.2" height="365.2" rx="6.5" ry="6.5" fill="#B4C7E7" fill-opacity="0.28" stroke="#44546A" stroke-opacity="0.9" stroke-width="0.9"/>
<text x="48.5" y="119.6" text-anchor="middle" class="yl" >Norepinephrine</text>
<text x="48.5" y="133.3" text-anchor="middle" class="yl" >mcg·kg<tspan dy="-4" font-size="7.5">-1</tspan><tspan dy="4">·min</tspan><tspan dy="-4" font-size="7.5">-1</tspan></text>
<text x="48.5" y="262.6" text-anchor="middle" class="yl" >Fluid Boluses</text>
<text x="48.5" y="276.1" text-anchor="middle" class="yl" >ml·kg<tspan dy="-4" font-size="7.5">-1</tspan></text>
<text x="50.3" y="395.7" text-anchor="middle" class="yl" >Mean Arterial</text>
<text x="50.3" y="409.1" text-anchor="middle" class="yl" >Pressure mmHg</text>
<text x="43.8" y="528.8" text-anchor="middle" class="yl" >Mixed Venous O<tspan dy="3" font-size="7.5">2</tspan></text>
<text x="43.8" y="542.9" text-anchor="middle" class="yl" >Saturation</text>
<text x="43.8" y="557.0" text-anchor="middle" class="yl" >%</text>
<text x="48.8" y="659.5" text-anchor="middle" class="yl" >Heart Rate</text>
<text x="48.8" y="673.4" text-anchor="middle" class="yl" >beats·min<tspan dy="-4" font-size="7.5">-1</tspan></text>
<text x="131.4" y="49.9" textLength="38.9" lengthAdjust="spacingAndGlyphs" class="bl">Baseline</text>
<line x1="126.6" y1="59.5" x2="171.4" y2="59.5" stroke="#000" stroke-width="2.8"/>
<text x="387.3" y="56.3" textLength="41" lengthAdjust="spacingAndGlyphs" class="rf">ReFit</text>
<rect x="161.2" y="0.3" width="57.4" height="32" fill="#fff" stroke="#ED7D31" stroke-width="2.1"/>
<text x="178.8" y="13.5" textLength="21.6" lengthAdjust="spacingAndGlyphs" class="ll">Liver</text>
<text x="165.7" y="27.1" textLength="47.8" lengthAdjust="spacingAndGlyphs" class="ll">Laceration</text>
<line x1="176.7" y1="36.5" x2="176.7" y2="376" stroke="#ED7D31" stroke-width="3.0"/>
<path d="M172.2 374.1 L181.2 374.1 L176.7 383 Z" fill="#ED7D31"/>
<line x1="199.7" y1="36.5" x2="199.7" y2="376" stroke="#ED7D31" stroke-width="3.0"/>
<path d="M195.2 374.1 L204.2 374.1 L199.7 383 Z" fill="#ED7D31"/>
</svg>
</body></html>
